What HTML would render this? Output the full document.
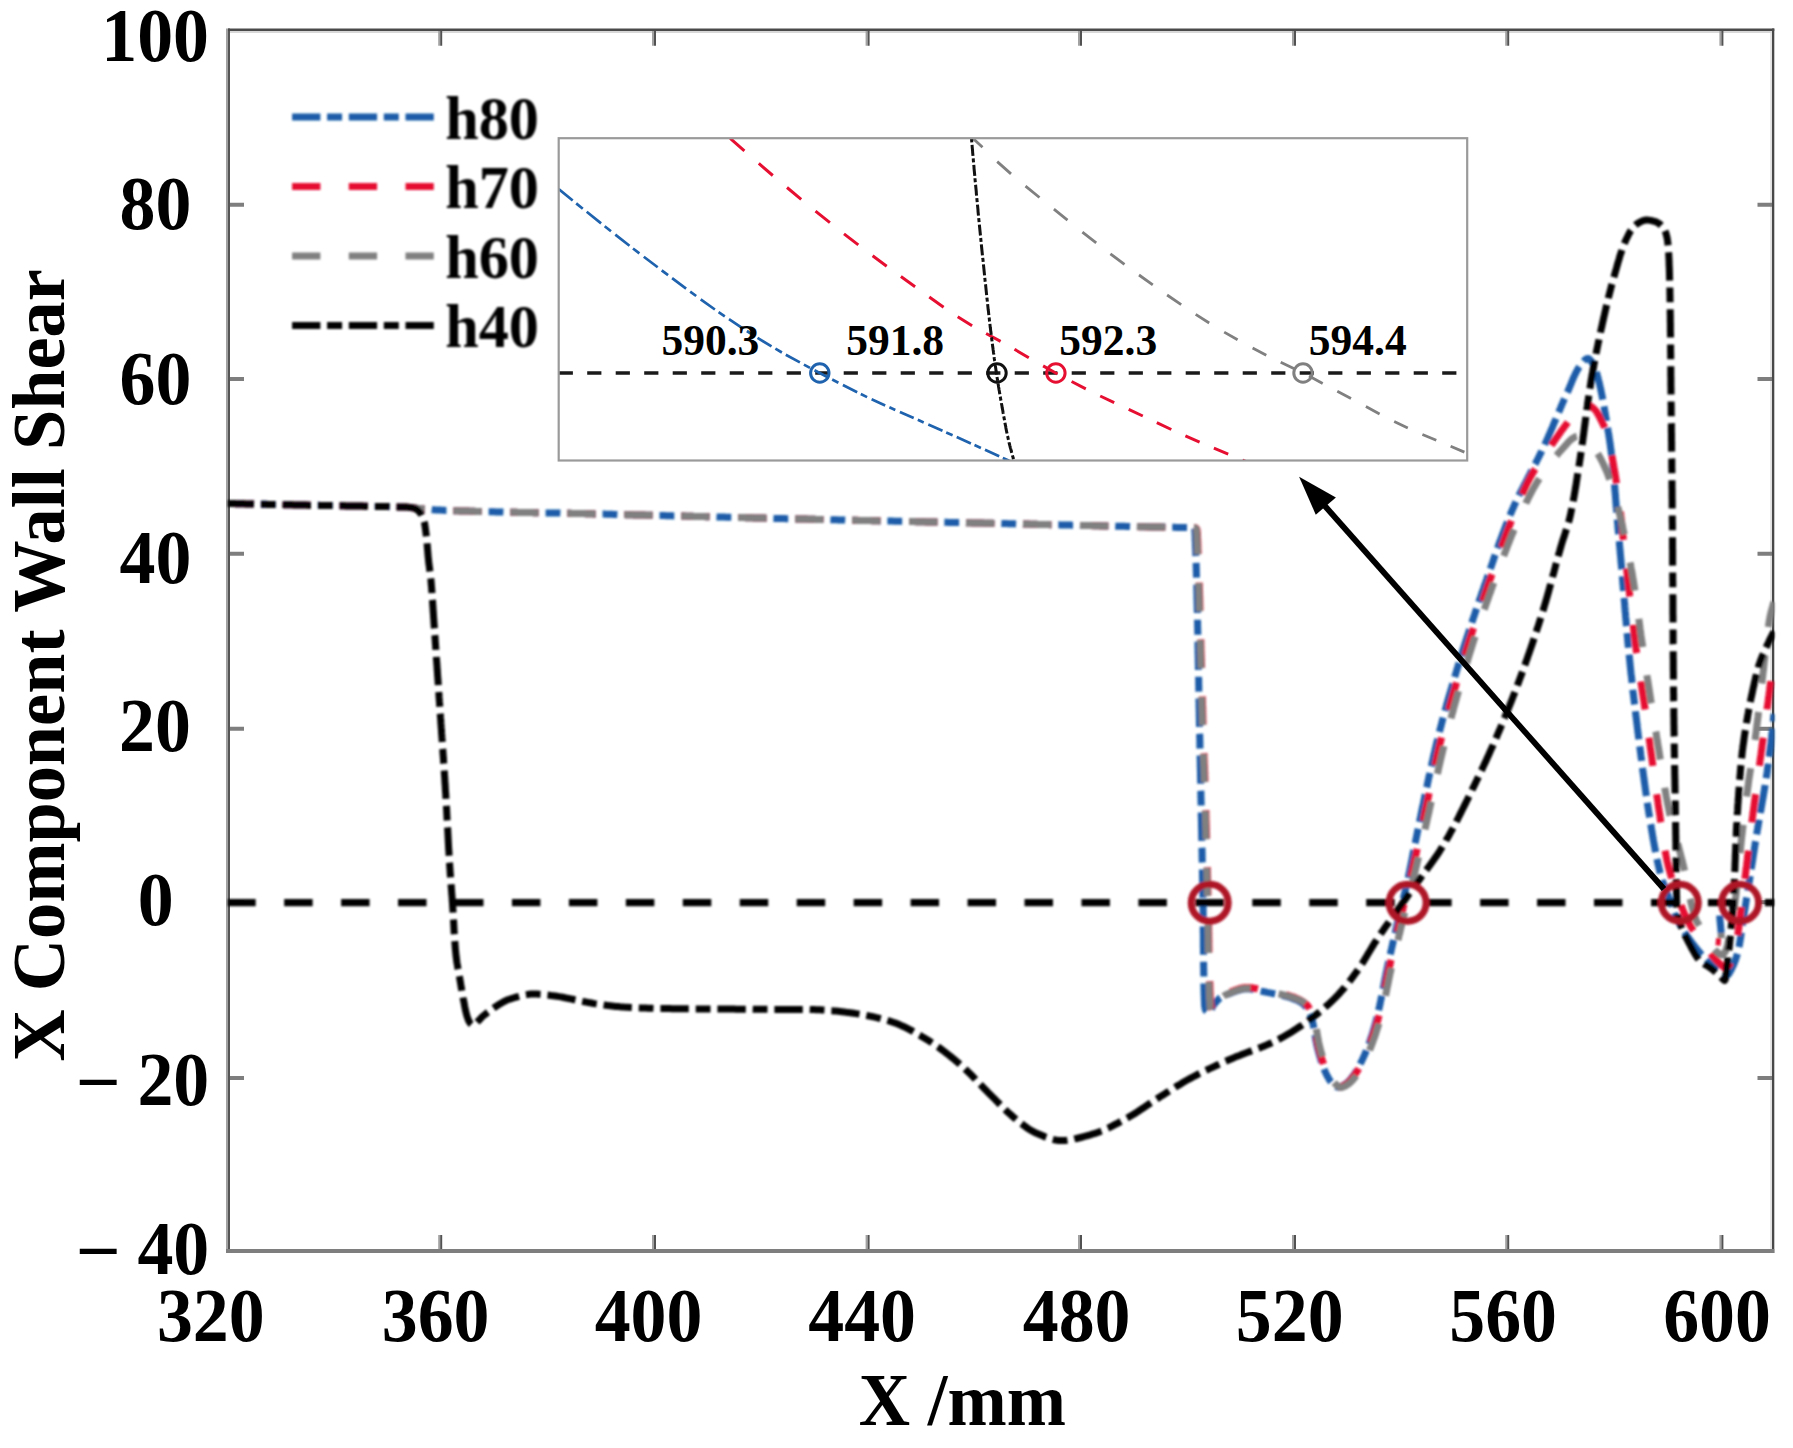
<!DOCTYPE html>
<html lang="en"><head><meta charset="utf-8"><title>X Component Wall Shear</title>
<style>html,body{margin:0;padding:0;background:#fff}svg{display:block}text{font-family:"Liberation Serif",serif;font-weight:bold;fill:#000}</style></head><body>
<svg width="1793" height="1448" viewBox="0 0 1793 1448">
<rect width="1793" height="1448" fill="#fff"/>
<defs><clipPath id="plot"><rect x="228.0" y="29.8" width="1546.4" height="1221.2"/></clipPath><clipPath id="ins"><rect x="558.7" y="138.2" width="908.5" height="322.3"/></clipPath><filter id="soft" filterUnits="userSpaceOnUse" x="0" y="0" width="1793" height="1448"><feGaussianBlur stdDeviation="0.8"/></filter></defs>
<g fill="none" stroke-width="2">
<path d="M227 28.5V1253" stroke="#a2a2a2"/><path d="M229 28.5V1253" stroke="#555"/>
<path d="M1771.1 31V1249" stroke="#e2e2e2" stroke-width="1.8"/><path d="M1773.15 28.5V1253" stroke="#484848" stroke-width="2.3"/>
<path d="M228 29.75H1774.3" stroke="#4a4a4a" stroke-width="2.5"/><path d="M230 32H1772" stroke="#d8d8d8"/>
<path d="M226 1251H1774.3" stroke="#7e7e7e" stroke-width="4"/>
<path d="M439.2 31V45.8 M439.2 1249V1235.0" stroke="#a2a2a2"/>
<path d="M441.2 31V45.8 M441.2 1249V1235.0" stroke="#525252"/>
<path d="M653.0 31V45.8 M653.0 1249V1235.0" stroke="#a2a2a2"/>
<path d="M655.0 31V45.8 M655.0 1249V1235.0" stroke="#525252"/>
<path d="M866.6 31V45.8 M866.6 1249V1235.0" stroke="#a2a2a2"/>
<path d="M868.6 31V45.8 M868.6 1249V1235.0" stroke="#525252"/>
<path d="M1079.0 31V45.8 M1079.0 1249V1235.0" stroke="#a2a2a2"/>
<path d="M1081.0 31V45.8 M1081.0 1249V1235.0" stroke="#525252"/>
<path d="M1293.0 31V45.8 M1293.0 1249V1235.0" stroke="#a2a2a2"/>
<path d="M1295.0 31V45.8 M1295.0 1249V1235.0" stroke="#525252"/>
<path d="M1506.2 31V45.8 M1506.2 1249V1235.0" stroke="#a2a2a2"/>
<path d="M1508.2 31V45.8 M1508.2 1249V1235.0" stroke="#525252"/>
<path d="M1720.4 31V45.8 M1720.4 1249V1235.0" stroke="#a2a2a2"/>
<path d="M1722.4 31V45.8 M1722.4 1249V1235.0" stroke="#525252"/>
<path d="M230 204.7H244 M1772 204.7H1757.5" stroke="#7e7e7e" stroke-width="4"/>
<path d="M230 379.0H244 M1772 379.0H1757.5" stroke="#7e7e7e" stroke-width="4"/>
<path d="M230 553.8H244 M1772 553.8H1757.5" stroke="#7e7e7e" stroke-width="4"/>
<path d="M230 728.7H244 M1772 728.7H1757.5" stroke="#7e7e7e" stroke-width="4"/>
<path d="M230 902.2H244 M1772 902.2H1757.5" stroke="#7e7e7e" stroke-width="4"/>
<path d="M230 1078.0H244 M1772 1078.0H1757.5" stroke="#7e7e7e" stroke-width="4"/>
</g>
<g filter="url(#soft)">
<g clip-path="url(#plot)" fill="none" stroke-width="7.0" stroke-linejoin="round">
<path d="M228.0 503.5L230.0 503.5L232.0 503.6L234.0 503.6L236.0 503.7L238.0 503.7L240.0 503.8L242.0 503.8L244.0 503.8L246.0 503.9L248.0 503.9L250.0 504.0L252.0 504.0L254.0 504.1L256.0 504.1L258.0 504.1L260.0 504.2L262.0 504.2L264.0 504.3L266.0 504.3L268.0 504.4L270.0 504.4L272.0 504.4L274.0 504.5L276.0 504.5L278.0 504.6L280.0 504.6L282.0 504.6L284.0 504.7L286.0 504.7L288.0 504.8L290.1 504.8L292.1 504.8L294.1 504.9L296.1 504.9L298.1 505.0L300.1 505.0L302.1 505.0L304.1 505.1L306.1 505.1L308.1 505.2L310.1 505.2L312.1 505.2L314.1 505.3L316.1 505.3L318.1 505.3L320.1 505.4L322.1 505.4L324.1 505.5L326.1 505.5L328.1 505.5L330.1 505.6L332.1 505.6L334.1 505.6L336.1 505.7L338.1 505.7L340.1 505.7L342.1 505.8L344.1 505.8L346.1 505.9L348.1 505.9L350.1 505.9L352.1 506.0L354.1 506.0L356.1 506.0L358.1 506.1L360.1 506.1L362.1 506.1L364.1 506.2L366.1 506.2L368.1 506.3L370.1 506.3L372.1 506.3L374.1 506.4L376.1 506.4L378.1 506.5L380.1 506.5L382.1 506.5L384.1 506.6L386.1 506.6L388.1 506.6L390.1 506.7L392.1 506.7L394.1 506.8L396.1 506.8L398.1 506.9L400.1 506.9L402.1 507.0L404.1 507.0L406.1 507.2L408.1 507.3L410.1 507.5L412.1 507.7L414.1 507.9L416.1 508.1L418.1 508.4L420.1 508.6L422.1 508.8L424.1 509.1L426.1 509.3L428.1 509.5L430.1 509.6L432.0 509.8L434.0 509.8L436.0 509.9L438.0 510.0L440.0 510.1L442.0 510.2L444.0 510.3L446.0 510.4L448.0 510.4L450.0 510.5L452.0 510.6L454.0 510.7L456.0 510.7L458.0 510.8L460.0 510.9L462.0 510.9L464.0 511.0L466.0 511.1L468.0 511.1L470.0 511.2L472.0 511.3L474.0 511.3L476.0 511.4L478.0 511.4L480.0 511.5L482.0 511.5L484.0 511.6L486.0 511.6L488.0 511.7L490.0 511.7L492.0 511.8L494.0 511.8L496.0 511.9L498.0 511.9L500.0 512.0L502.0 512.0L504.0 512.1L506.0 512.1L508.0 512.2L510.0 512.2L512.0 512.2L514.1 512.3L516.1 512.3L518.1 512.4L520.1 512.4L522.1 512.4L524.1 512.5L526.1 512.5L528.1 512.6L530.1 512.6L532.1 512.6L534.1 512.7L536.1 512.7L538.1 512.7L540.1 512.8L542.1 512.8L544.1 512.9L546.1 512.9L548.1 512.9L550.1 513.0L552.1 513.0L554.1 513.0L556.1 513.1L558.1 513.1L560.1 513.1L562.1 513.2L564.1 513.2L566.1 513.3L568.1 513.3L570.1 513.3L572.1 513.4L574.1 513.4L576.1 513.5L578.1 513.5L580.1 513.5L582.1 513.6L584.2 513.6L586.2 513.7L588.2 513.7L590.2 513.8L592.2 513.8L594.2 513.9L596.2 513.9L598.2 514.0L600.2 514.0L602.2 514.1L604.2 514.1L606.2 514.2L608.2 514.2L610.2 514.3L612.2 514.3L614.2 514.4L616.2 514.4L618.2 514.5L620.2 514.5L622.2 514.6L624.2 514.6L626.2 514.7L628.2 514.7L630.2 514.8L632.2 514.8L634.2 514.9L636.2 514.9L638.2 515.0L640.2 515.0L642.2 515.1L644.2 515.1L646.2 515.2L648.2 515.2L650.2 515.3L652.2 515.3L654.2 515.4L656.2 515.4L658.2 515.5L660.2 515.5L662.2 515.6L664.2 515.6L666.2 515.7L668.2 515.7L670.2 515.8L672.2 515.8L674.2 515.9L676.2 515.9L678.2 516.0L680.2 516.0L682.2 516.1L684.2 516.1L686.2 516.2L688.2 516.2L690.2 516.3L692.2 516.3L694.2 516.4L696.2 516.4L698.2 516.5L700.2 516.5L702.2 516.6L704.2 516.6L706.2 516.7L708.2 516.7L710.2 516.8L712.2 516.8L714.2 516.9L716.2 516.9L718.2 517.0L720.3 517.0L722.3 517.1L724.3 517.1L726.3 517.2L728.3 517.2L730.3 517.3L732.3 517.3L734.3 517.4L736.3 517.4L738.3 517.5L740.3 517.5L742.3 517.6L744.3 517.6L746.3 517.7L748.3 517.7L750.3 517.8L752.3 517.8L754.3 517.9L756.3 517.9L758.3 518.0L760.3 518.0L762.3 518.1L764.3 518.1L766.3 518.2L768.3 518.2L770.3 518.3L772.3 518.3L774.3 518.4L776.3 518.4L778.3 518.5L780.3 518.5L782.3 518.6L784.3 518.6L786.3 518.7L788.3 518.7L790.3 518.8L792.3 518.8L794.3 518.9L796.3 518.9L798.3 519.0L800.3 519.0L802.3 519.1L804.3 519.1L806.3 519.1L808.3 519.2L810.3 519.2L812.3 519.3L814.3 519.3L816.3 519.4L818.3 519.4L820.3 519.5L822.3 519.5L824.3 519.6L826.3 519.6L828.3 519.7L830.3 519.7L832.3 519.8L834.3 519.8L836.3 519.8L838.3 519.9L840.3 519.9L842.3 520.0L844.3 520.0L846.3 520.1L848.3 520.1L850.3 520.2L852.3 520.2L854.3 520.3L856.4 520.3L858.4 520.4L860.4 520.4L862.4 520.4L864.4 520.5L866.4 520.5L868.4 520.6L870.4 520.6L872.4 520.7L874.4 520.7L876.4 520.8L878.4 520.8L880.4 520.9L882.4 520.9L884.4 520.9L886.4 521.0L888.4 521.0L890.4 521.1L892.4 521.1L894.4 521.2L896.4 521.2L898.4 521.3L900.4 521.3L902.4 521.3L904.4 521.4L906.4 521.4L908.4 521.5L910.4 521.5L912.4 521.6L914.4 521.6L916.4 521.7L918.4 521.7L920.4 521.7L922.4 521.8L924.4 521.8L926.4 521.9L928.4 521.9L930.4 522.0L932.4 522.0L934.4 522.1L936.4 522.1L938.4 522.1L940.4 522.2L942.4 522.2L944.4 522.3L946.4 522.3L948.4 522.4L950.4 522.4L952.4 522.5L954.4 522.5L956.4 522.5L958.4 522.6L960.4 522.6L962.4 522.7L964.4 522.7L966.4 522.8L968.4 522.8L970.4 522.8L972.4 522.9L974.4 522.9L976.4 523.0L978.4 523.0L980.4 523.1L982.4 523.1L984.5 523.2L986.5 523.2L988.5 523.2L990.5 523.3L992.5 523.3L994.5 523.4L996.5 523.4L998.5 523.5L1000.5 523.5L1002.5 523.6L1004.5 523.6L1006.5 523.6L1008.5 523.7L1010.5 523.7L1012.5 523.8L1014.5 523.8L1016.5 523.9L1018.5 523.9L1020.5 524.0L1022.5 524.0L1024.5 524.1L1026.5 524.1L1028.5 524.1L1030.5 524.2L1032.5 524.2L1034.5 524.3L1036.5 524.3L1038.5 524.4L1040.5 524.4L1042.5 524.5L1044.5 524.5L1046.5 524.6L1048.5 524.6L1050.5 524.7L1052.5 524.7L1054.5 524.8L1056.5 524.8L1058.5 524.8L1060.5 524.9L1062.5 524.9L1064.5 525.0L1066.5 525.0L1068.5 525.1L1070.5 525.1L1072.5 525.2L1074.5 525.2L1076.5 525.3L1078.5 525.3L1080.5 525.4L1082.5 525.4L1084.5 525.5L1086.5 525.5L1088.5 525.5L1090.5 525.6L1092.5 525.6L1094.5 525.7L1096.5 525.7L1098.5 525.8L1100.5 525.8L1102.5 525.9L1104.5 525.9L1106.5 526.0L1108.5 526.0L1110.5 526.0L1112.6 526.1L1114.6 526.1L1116.6 526.2L1118.6 526.2L1120.6 526.3L1122.6 526.3L1124.6 526.3L1126.6 526.4L1128.6 526.4L1130.6 526.5L1132.6 526.5L1134.6 526.6L1136.6 526.6L1138.6 526.6L1140.6 526.7L1142.6 526.7L1144.6 526.8L1146.6 526.8L1148.6 526.8L1150.6 526.9L1152.6 526.9L1154.6 527.0L1156.6 527.0L1158.6 527.0L1160.6 527.1L1162.6 527.1L1164.6 527.1L1166.6 527.2L1168.6 527.2L1170.6 527.3L1172.6 527.3L1174.6 527.3L1176.6 527.4L1178.6 527.4L1180.6 527.4L1182.6 527.5L1184.6 527.5L1186.6 527.5L1188.6 527.5L1190.6 527.6L1192.7 527.6L1194.4 528.3L1194.9 530.3L1195.0 532.2L1195.1 534.2L1195.2 536.3L1195.2 538.3L1195.3 540.3L1195.4 542.3L1195.5 544.3L1195.5 546.3L1195.6 548.3L1195.7 550.3L1195.8 552.3L1195.8 554.3L1195.9 556.3L1196.0 558.3L1196.0 560.3L1196.1 562.3L1196.2 564.3L1196.2 566.3L1196.3 568.3L1196.3 570.3L1196.4 572.3L1196.4 574.3L1196.5 576.3L1196.6 578.3L1196.6 580.3L1196.7 582.3L1196.7 584.3L1196.8 586.3L1196.8 588.3L1196.9 590.3L1196.9 592.3L1197.0 594.3L1197.0 596.3L1197.0 598.3L1197.1 600.3L1197.1 602.3L1197.2 604.3L1197.2 606.3L1197.3 608.3L1197.3 610.4L1197.4 612.4L1197.4 614.4L1197.4 616.4L1197.5 618.4L1197.5 620.4L1197.6 622.4L1197.6 624.4L1197.6 626.4L1197.7 628.4L1197.7 630.4L1197.8 632.4L1197.8 634.4L1197.8 636.4L1197.9 638.4L1197.9 640.4L1198.0 642.4L1198.0 644.4L1198.0 646.4L1198.1 648.4L1198.1 650.4L1198.1 652.4L1198.2 654.4L1198.2 656.4L1198.3 658.4L1198.3 660.4L1198.3 662.4L1198.4 664.4L1198.4 666.4L1198.4 668.4L1198.5 670.4L1198.5 672.4L1198.5 674.4L1198.6 676.4L1198.6 678.4L1198.7 680.4L1198.7 682.4L1198.7 684.4L1198.8 686.4L1198.8 688.4L1198.8 690.4L1198.9 692.4L1198.9 694.4L1198.9 696.4L1199.0 698.4L1199.0 700.4L1199.1 702.4L1199.1 704.4L1199.1 706.4L1199.2 708.4L1199.2 710.4L1199.3 712.4L1199.3 714.4L1199.3 716.4L1199.4 718.4L1199.4 720.4L1199.4 722.4L1199.5 724.4L1199.5 726.5L1199.6 728.5L1199.6 730.5L1199.6 732.5L1199.7 734.5L1199.7 736.5L1199.8 738.5L1199.8 740.5L1199.9 742.5L1199.9 744.5L1199.9 746.5L1200.0 748.5L1200.0 750.5L1200.1 752.5L1200.1 754.5L1200.1 756.5L1200.2 758.5L1200.2 760.5L1200.3 762.5L1200.3 764.5L1200.3 766.5L1200.4 768.5L1200.4 770.5L1200.5 772.5L1200.5 774.5L1200.5 776.5L1200.6 778.5L1200.6 780.5L1200.7 782.5L1200.7 784.5L1200.7 786.5L1200.8 788.5L1200.8 790.5L1200.9 792.5L1200.9 794.5L1200.9 796.5L1201.0 798.5L1201.0 800.5L1201.1 802.5L1201.1 804.5L1201.1 806.5L1201.2 808.5L1201.2 810.5L1201.3 812.5L1201.3 814.5L1201.3 816.5L1201.4 818.5L1201.4 820.5L1201.5 822.5L1201.5 824.5L1201.5 826.5L1201.6 828.5L1201.6 830.5L1201.7 832.5L1201.7 834.5L1201.7 836.5L1201.8 838.5L1201.8 840.5L1201.9 842.5L1201.9 844.5L1201.9 846.6L1202.0 848.6L1202.0 850.6L1202.1 852.6L1202.1 854.6L1202.1 856.6L1202.2 858.6L1202.2 860.6L1202.3 862.6L1202.3 864.6L1202.3 866.6L1202.4 868.6L1202.4 870.6L1202.5 872.6L1202.5 874.6L1202.5 876.6L1202.6 878.6L1202.6 880.6L1202.7 882.6L1202.7 884.6L1202.7 886.6L1202.8 888.6L1202.8 890.6L1202.8 892.6L1202.9 894.6L1202.9 896.6L1202.9 898.6L1203.0 900.6L1203.0 902.6L1203.0 904.6L1203.1 906.6L1203.1 908.6L1203.1 910.6L1203.2 912.6L1203.2 914.6L1203.2 916.6L1203.2 918.6L1203.2 920.7L1203.3 922.7L1203.3 924.7L1203.3 926.7L1203.3 928.7L1203.3 930.7L1203.3 932.7L1203.4 934.7L1203.4 936.7L1203.4 938.8L1203.4 940.8L1203.4 942.8L1203.4 944.8L1203.4 946.8L1203.5 948.8L1203.5 950.8L1203.5 952.8L1203.5 954.8L1203.5 956.8L1203.5 958.8L1203.6 960.9L1203.6 962.9L1203.6 964.9L1203.6 966.9L1203.7 968.9L1203.7 970.9L1203.7 972.9L1203.8 974.9L1203.8 976.9L1203.8 978.9L1203.9 980.9L1203.9 982.9L1203.9 984.9L1204.0 986.8L1204.0 988.8L1204.1 990.8L1204.1 992.8L1204.2 994.8L1204.3 996.8L1204.3 998.8L1204.4 1000.7L1204.5 1002.7L1204.5 1004.7L1204.8 1006.9L1205.2 1009.0L1205.8 1010.7L1207.2 1011.9L1209.1 1012.5L1210.3 1011.6L1211.3 1009.6L1212.2 1007.4L1213.3 1005.5L1214.5 1003.9L1215.8 1002.3L1217.1 1000.7L1218.5 999.3L1220.0 998.0L1221.6 997.0L1223.4 996.1L1225.2 995.2L1227.1 994.5L1229.0 993.8L1230.9 993.1L1232.8 992.3L1234.7 991.6L1236.6 991.0L1238.6 990.3L1240.5 989.8L1242.5 989.4L1244.4 989.1L1246.4 988.9L1248.4 988.9L1250.3 989.1L1252.3 989.3L1254.3 989.7L1256.2 990.1L1258.2 990.5L1260.2 991.0L1262.2 991.4L1264.2 991.8L1266.1 992.2L1268.1 992.6L1270.1 992.9L1272.0 993.3L1274.0 993.7L1276.0 994.1L1277.9 994.5L1279.9 994.9L1281.8 995.4L1283.8 995.9L1285.7 996.4L1287.6 996.9L1289.6 997.5L1291.6 998.2L1293.5 998.9L1295.4 999.6L1297.2 1000.4L1299.0 1001.2L1300.7 1002.2L1302.3 1003.2L1303.9 1004.5L1305.3 1006.0L1306.6 1007.5L1307.7 1009.1L1308.7 1010.8L1309.6 1012.7L1310.4 1014.6L1311.1 1016.5L1311.7 1018.3L1312.2 1020.2L1312.6 1022.2L1313.1 1024.1L1313.5 1026.1L1313.8 1028.0L1314.2 1030.0L1314.5 1032.0L1314.8 1034.0L1315.2 1036.0L1315.5 1038.0L1315.8 1040.0L1316.2 1042.0L1316.6 1043.9L1317.0 1045.9L1317.5 1047.8L1318.0 1049.8L1318.5 1051.7L1319.0 1053.7L1319.6 1055.6L1320.1 1057.5L1320.7 1059.5L1321.3 1061.4L1322.0 1063.3L1322.6 1065.2L1323.3 1067.1L1324.1 1068.9L1324.8 1070.8L1325.6 1072.6L1326.4 1074.4L1327.4 1076.2L1328.4 1078.0L1329.4 1079.7L1330.6 1081.4L1331.8 1082.8L1333.3 1084.3L1334.9 1085.8L1336.6 1086.9L1338.4 1087.3L1340.3 1086.9L1342.2 1086.0L1344.0 1085.0L1345.6 1083.9L1347.2 1082.6L1348.7 1081.2L1350.0 1079.7L1351.3 1078.2L1352.5 1076.6L1353.7 1075.0L1354.8 1073.4L1355.9 1071.7L1356.9 1070.0L1358.0 1068.2L1359.0 1066.4L1359.9 1064.6L1360.8 1062.8L1361.7 1061.0L1362.6 1059.2L1363.4 1057.4L1364.2 1055.6L1365.0 1053.8L1365.8 1051.9L1366.5 1050.1L1367.3 1048.2L1368.0 1046.4L1368.7 1044.5L1369.4 1042.6L1370.0 1040.7L1370.7 1038.8L1371.3 1036.9L1372.0 1034.9L1372.6 1033.0L1373.2 1031.1L1373.7 1029.2L1374.3 1027.3L1374.9 1025.3L1375.4 1023.4L1375.9 1021.5L1376.4 1019.6L1376.9 1017.6L1377.4 1015.7L1377.8 1013.8L1378.3 1011.8L1378.7 1009.9L1379.2 1007.9L1379.6 1006.0L1380.0 1004.0L1380.4 1002.0L1380.8 1000.1L1381.2 998.1L1381.6 996.2L1382.0 994.2L1382.4 992.2L1382.8 990.2L1383.2 988.3L1383.6 986.3L1384.0 984.3L1384.3 982.4L1384.7 980.4L1385.1 978.4L1385.5 976.5L1385.9 974.5L1386.3 972.5L1386.7 970.6L1387.1 968.6L1387.5 966.6L1388.0 964.7L1388.4 962.7L1388.8 960.8L1389.3 958.8L1389.7 956.9L1390.1 954.9L1390.6 953.0L1391.0 951.0L1391.5 949.1L1391.9 947.1L1392.4 945.2L1392.8 943.2L1393.3 941.2L1393.7 939.3L1394.1 937.3L1394.6 935.4L1395.0 933.4L1395.5 931.5L1395.9 929.5L1396.4 927.6L1396.8 925.6L1397.3 923.7L1397.8 921.7L1398.2 919.8L1398.7 917.8L1399.1 915.9L1399.6 913.9L1400.1 912.0L1400.5 910.1L1401.0 908.1L1401.5 906.2L1401.9 904.2L1402.4 902.3L1402.9 900.3L1403.4 898.4L1403.8 896.4L1404.3 894.5L1404.8 892.5L1405.3 890.6L1405.7 888.6L1406.2 886.7L1406.6 884.7L1407.1 882.8L1407.5 880.8L1408.0 878.9L1408.4 876.9L1408.8 875.0L1409.2 873.0L1409.6 871.1L1410.0 869.1L1410.4 867.1L1410.8 865.2L1411.2 863.2L1411.6 861.2L1412.0 859.3L1412.4 857.3L1412.7 855.4L1413.1 853.4L1413.5 851.4L1413.9 849.5L1414.3 847.5L1414.7 845.5L1415.1 843.6L1415.5 841.6L1415.9 839.6L1416.3 837.7L1416.7 835.7L1417.1 833.8L1417.5 831.8L1417.9 829.8L1418.3 827.9L1418.7 825.9L1419.1 824.0L1419.5 822.0L1419.9 820.0L1420.3 818.1L1420.7 816.1L1421.1 814.1L1421.5 812.2L1421.9 810.2L1422.3 808.3L1422.7 806.3L1423.2 804.3L1423.6 802.4L1424.0 800.4L1424.4 798.4L1424.8 796.5L1425.2 794.5L1425.6 792.6L1426.0 790.6L1426.4 788.6L1426.9 786.7L1427.3 784.7L1427.7 782.8L1428.1 780.8L1428.5 778.9L1429.0 776.9L1429.4 774.9L1429.8 773.0L1430.2 771.0L1430.7 769.1L1431.1 767.1L1431.6 765.2L1432.0 763.2L1432.4 761.3L1432.9 759.3L1433.3 757.4L1433.8 755.4L1434.2 753.5L1434.7 751.5L1435.1 749.6L1435.6 747.6L1436.1 745.7L1436.5 743.7L1437.0 741.8L1437.5 739.8L1437.9 737.9L1438.4 736.0L1438.9 734.0L1439.4 732.1L1439.9 730.1L1440.4 728.2L1440.9 726.3L1441.4 724.3L1441.9 722.4L1442.4 720.5L1442.9 718.5L1443.4 716.6L1443.9 714.7L1444.5 712.7L1445.0 710.8L1445.5 708.9L1446.1 706.9L1446.6 705.0L1447.2 703.1L1447.7 701.1L1448.2 699.2L1448.8 697.3L1449.3 695.4L1449.9 693.4L1450.5 691.5L1451.0 689.6L1451.6 687.7L1452.2 685.8L1452.7 683.8L1453.3 681.9L1453.9 680.0L1454.4 678.1L1455.0 676.1L1455.6 674.2L1456.2 672.3L1456.7 670.4L1457.3 668.5L1457.9 666.6L1458.5 664.6L1459.1 662.7L1459.7 660.8L1460.3 658.9L1460.8 657.0L1461.4 655.1L1462.0 653.2L1462.6 651.3L1463.2 649.3L1463.8 647.4L1464.4 645.5L1465.0 643.6L1465.6 641.7L1466.2 639.8L1466.8 637.9L1467.5 636.0L1468.1 634.1L1468.7 632.2L1469.3 630.3L1469.9 628.4L1470.6 626.5L1471.2 624.6L1471.8 622.7L1472.5 620.8L1473.1 618.9L1473.7 617.0L1474.4 615.1L1475.0 613.2L1475.7 611.3L1476.3 609.4L1476.9 607.5L1477.6 605.6L1478.2 603.7L1478.9 601.8L1479.5 599.9L1480.2 598.0L1480.9 596.1L1481.5 594.2L1482.2 592.3L1482.8 590.5L1483.5 588.6L1484.1 586.7L1484.8 584.8L1485.5 582.9L1486.1 581.0L1486.8 579.1L1487.4 577.2L1488.1 575.3L1488.7 573.4L1489.4 571.5L1490.1 569.6L1490.7 567.8L1491.4 565.9L1492.0 564.0L1492.7 562.1L1493.3 560.2L1494.0 558.3L1494.6 556.4L1495.3 554.5L1496.0 552.6L1496.6 550.7L1497.3 548.8L1498.0 546.9L1498.7 545.0L1499.3 543.1L1500.0 541.3L1500.7 539.4L1501.4 537.5L1502.1 535.6L1502.8 533.7L1503.5 531.9L1504.2 530.0L1504.9 528.1L1505.6 526.3L1506.3 524.4L1507.1 522.5L1507.8 520.7L1508.6 518.8L1509.3 517.0L1510.1 515.1L1510.8 513.3L1511.6 511.5L1512.4 509.6L1513.2 507.8L1514.0 506.0L1514.8 504.2L1515.7 502.3L1516.5 500.5L1517.4 498.7L1518.2 496.9L1519.1 495.1L1520.0 493.3L1520.9 491.5L1521.8 489.8L1522.7 488.0L1523.6 486.2L1524.5 484.4L1525.5 482.6L1526.4 480.8L1527.3 479.1L1528.2 477.3L1529.2 475.5L1530.1 473.7L1531.0 472.0L1532.0 470.2L1532.9 468.4L1533.8 466.6L1534.7 464.8L1535.7 463.1L1536.6 461.3L1537.5 459.5L1538.4 457.7L1539.3 455.9L1540.2 454.1L1541.1 452.3L1541.9 450.5L1542.8 448.7L1543.7 446.9L1544.5 445.1L1545.3 443.3L1546.2 441.4L1547.0 439.6L1547.8 437.8L1548.6 436.0L1549.4 434.1L1550.2 432.3L1551.0 430.4L1551.8 428.6L1552.6 426.8L1553.3 424.9L1554.1 423.1L1554.9 421.2L1555.7 419.4L1556.5 417.5L1557.2 415.7L1558.0 413.8L1558.8 412.0L1559.6 410.2L1560.4 408.3L1561.1 406.5L1561.9 404.6L1562.7 402.8L1563.5 400.9L1564.3 399.1L1565.1 397.3L1565.9 395.5L1566.7 393.6L1567.6 391.8L1568.4 390.0L1569.2 388.1L1570.0 386.2L1570.8 384.4L1571.5 382.5L1572.3 380.6L1573.1 378.7L1573.9 376.8L1574.8 375.0L1575.6 373.2L1576.6 371.4L1577.5 369.7L1578.5 368.1L1579.6 366.5L1580.8 364.8L1582.2 362.9L1583.7 361.1L1585.2 359.6L1586.7 358.6L1588.2 358.4L1589.6 359.4L1591.1 361.1L1592.4 363.0L1593.4 364.7L1594.2 366.4L1595.0 368.3L1595.7 370.2L1596.3 372.1L1596.9 374.1L1597.5 376.1L1598.0 378.0L1598.5 380.0L1599.0 381.9L1599.5 383.8L1599.9 385.8L1600.4 387.7L1600.8 389.7L1601.2 391.6L1601.6 393.6L1602.0 395.6L1602.4 397.5L1602.7 399.5L1603.1 401.5L1603.4 403.5L1603.8 405.4L1604.1 407.4L1604.5 409.4L1604.8 411.4L1605.2 413.3L1605.5 415.3L1605.8 417.3L1606.2 419.3L1606.5 421.2L1606.8 423.2L1607.2 425.2L1607.5 427.2L1607.8 429.1L1608.1 431.1L1608.5 433.1L1608.8 435.1L1609.1 437.1L1609.4 439.0L1609.7 441.0L1610.0 443.0L1610.3 445.0L1610.5 447.0L1610.8 448.9L1611.1 450.9L1611.3 452.9L1611.6 454.9L1611.8 456.9L1612.1 458.9L1612.3 460.9L1612.5 462.8L1612.7 464.8L1612.9 466.8L1613.1 468.8L1613.3 470.8L1613.5 472.8L1613.7 474.8L1613.9 476.8L1614.0 478.8L1614.2 480.8L1614.4 482.8L1614.5 484.8L1614.7 486.8L1614.8 488.8L1615.0 490.8L1615.2 492.8L1615.3 494.7L1615.5 496.7L1615.6 498.7L1615.8 500.7L1615.9 502.7L1616.1 504.7L1616.2 506.7L1616.4 508.7L1616.6 510.7L1616.7 512.7L1616.9 514.7L1617.1 516.7L1617.3 518.7L1617.4 520.7L1617.6 522.7L1617.8 524.7L1617.9 526.7L1618.1 528.7L1618.3 530.7L1618.5 532.7L1618.6 534.7L1618.8 536.7L1619.0 538.6L1619.2 540.6L1619.4 542.6L1619.5 544.6L1619.7 546.6L1619.9 548.6L1620.1 550.6L1620.2 552.6L1620.4 554.6L1620.6 556.6L1620.8 558.6L1620.9 560.6L1621.1 562.6L1621.3 564.6L1621.5 566.6L1621.6 568.6L1621.8 570.6L1622.0 572.6L1622.2 574.5L1622.3 576.5L1622.5 578.5L1622.7 580.5L1622.8 582.5L1623.0 584.5L1623.2 586.5L1623.3 588.5L1623.5 590.5L1623.7 592.5L1623.8 594.5L1624.0 596.5L1624.2 598.5L1624.3 600.5L1624.5 602.5L1624.7 604.5L1624.8 606.5L1625.0 608.5L1625.1 610.5L1625.3 612.5L1625.5 614.5L1625.6 616.5L1625.8 618.4L1626.0 620.4L1626.2 622.4L1626.3 624.4L1626.5 626.4L1626.7 628.4L1626.8 630.4L1627.0 632.4L1627.2 634.4L1627.4 636.4L1627.6 638.4L1627.7 640.4L1627.9 642.4L1628.1 644.4L1628.3 646.4L1628.5 648.4L1628.7 650.3L1628.9 652.3L1629.1 654.3L1629.3 656.3L1629.5 658.3L1629.7 660.3L1629.9 662.3L1630.1 664.3L1630.3 666.3L1630.5 668.3L1630.7 670.3L1630.9 672.3L1631.1 674.2L1631.4 676.2L1631.6 678.2L1631.8 680.2L1632.0 682.2L1632.2 684.2L1632.5 686.2L1632.7 688.2L1632.9 690.2L1633.1 692.2L1633.4 694.1L1633.6 696.1L1633.8 698.1L1634.1 700.1L1634.3 702.1L1634.5 704.1L1634.8 706.1L1635.0 708.1L1635.3 710.0L1635.5 712.0L1635.7 714.0L1636.0 716.0L1636.2 718.0L1636.5 720.0L1636.7 722.0L1637.0 724.0L1637.2 725.9L1637.4 727.9L1637.7 729.9L1637.9 731.9L1638.2 733.9L1638.4 735.9L1638.7 737.9L1638.9 739.9L1639.2 741.8L1639.4 743.8L1639.7 745.8L1639.9 747.8L1640.2 749.8L1640.4 751.8L1640.7 753.8L1640.9 755.7L1641.2 757.7L1641.5 759.7L1641.7 761.7L1642.0 763.7L1642.2 765.7L1642.5 767.7L1642.7 769.7L1643.0 771.6L1643.3 773.6L1643.5 775.6L1643.8 777.6L1644.1 779.6L1644.3 781.6L1644.6 783.6L1644.9 785.5L1645.2 787.5L1645.4 789.5L1645.7 791.5L1646.0 793.5L1646.3 795.5L1646.6 797.4L1646.8 799.4L1647.1 801.4L1647.4 803.4L1647.7 805.4L1648.0 807.3L1648.3 809.3L1648.6 811.3L1648.9 813.3L1649.3 815.2L1649.6 817.2L1649.9 819.2L1650.2 821.2L1650.5 823.1L1650.9 825.1L1651.2 827.1L1651.5 829.1L1651.8 831.0L1652.2 833.0L1652.5 835.0L1652.8 837.0L1653.2 839.0L1653.5 840.9L1653.9 842.9L1654.2 844.9L1654.6 846.9L1655.0 848.8L1655.3 850.8L1655.7 852.8L1656.1 854.8L1656.5 856.7L1656.9 858.7L1657.3 860.6L1657.7 862.6L1658.2 864.6L1658.6 866.5L1659.1 868.4L1659.6 870.4L1660.0 872.3L1660.5 874.2L1661.0 876.2L1661.6 878.1L1662.2 880.0L1662.8 881.9L1663.5 883.7L1664.2 885.6L1664.9 887.5L1665.6 889.4L1666.4 891.2L1667.1 893.1L1667.8 895.0L1668.5 896.9L1669.2 898.7L1669.9 900.6L1670.6 902.5L1671.3 904.4L1672.0 906.3L1672.6 908.2L1673.3 910.1L1674.1 912.0L1674.8 913.8L1675.6 915.7L1676.4 917.5L1677.2 919.3L1678.1 921.1L1679.0 922.8L1679.9 924.6L1680.9 926.3L1681.9 928.0L1683.0 929.7L1684.1 931.4L1685.2 933.1L1686.3 934.8L1687.4 936.5L1688.6 938.1L1689.8 939.8L1691.0 941.4L1692.2 943.0L1693.4 944.6L1694.6 946.2L1695.8 947.8L1697.1 949.3L1698.3 950.9L1699.6 952.4L1700.9 953.9L1702.3 955.4L1703.6 956.9L1705.0 958.4L1706.4 959.8L1707.8 961.2L1709.2 962.6L1710.7 964.0L1712.1 965.5L1713.6 966.9L1715.0 968.3L1716.6 969.6L1718.1 970.8L1719.8 971.9L1721.6 972.9L1723.6 973.9L1725.5 974.7L1727.1 975.0L1728.5 974.3L1729.7 972.6L1730.8 970.5L1731.8 968.4L1732.7 966.7L1733.5 964.9L1734.3 963.0L1735.0 961.1L1735.7 959.2L1736.3 957.3L1736.9 955.4L1737.5 953.4L1738.0 951.5L1738.4 949.5L1738.8 947.6L1739.2 945.7L1739.6 943.7L1739.9 941.7L1740.2 939.8L1740.6 937.8L1740.8 935.8L1741.1 933.8L1741.4 931.8L1741.7 929.8L1742.0 927.8L1742.2 925.8L1742.5 923.8L1742.8 921.9L1743.1 919.9L1743.5 917.9L1743.8 915.9L1744.1 913.9L1744.4 912.0L1744.7 910.0L1745.1 908.0L1745.4 906.0L1745.7 904.1L1746.0 902.1L1746.3 900.1L1746.6 898.1L1747.0 896.2L1747.3 894.2L1747.6 892.2L1747.9 890.2L1748.2 888.2L1748.5 886.3L1748.9 884.3L1749.2 882.3L1749.5 880.3L1749.8 878.4L1750.1 876.4L1750.4 874.4L1750.7 872.4L1751.0 870.4L1751.3 868.5L1751.6 866.5L1751.9 864.5L1752.3 862.5L1752.6 860.6L1752.9 858.6L1753.2 856.6L1753.5 854.6L1753.8 852.6L1754.1 850.7L1754.4 848.7L1754.7 846.7L1755.0 844.7L1755.3 842.8L1755.7 840.8L1756.0 838.8L1756.3 836.8L1756.6 834.8L1756.9 832.9L1757.2 830.9L1757.6 828.9L1757.9 826.9L1758.2 825.0L1758.6 823.0L1758.9 821.0L1759.2 819.0L1759.6 817.1L1759.9 815.1L1760.3 813.1L1760.6 811.2L1761.0 809.2L1761.3 807.2L1761.7 805.2L1762.0 803.3L1762.4 801.3L1762.7 799.3L1763.1 797.3L1763.4 795.4L1763.7 793.4L1764.1 791.4L1764.4 789.5L1764.7 787.5L1765.1 785.5L1765.4 783.5L1765.7 781.5L1766.0 779.6L1766.3 777.6L1766.6 775.6L1766.9 773.6L1767.2 771.7L1767.4 769.7L1767.7 767.7L1768.0 765.7L1768.3 763.7L1768.5 761.7L1768.8 759.8L1769.0 757.8L1769.3 755.8L1769.5 753.8L1769.8 751.8L1770.0 749.8L1770.3 747.8L1770.5 745.9L1770.8 743.9L1771.0 741.9L1771.2 739.9L1771.5 737.9L1771.7 735.9L1771.9 733.9L1772.2 731.9L1772.4 729.9L1772.6 728.0L1772.8 726.0L1773.0 724.0L1773.2 722.0L1773.4 720.0L1773.6 718.0L1773.8 716.0L1774.0 714.0" stroke="#1a5ca8" stroke-dasharray="28.4 6.9 14.8 6.9" stroke-dashoffset="2.4"/>
<path d="M228.0 503.5L230.0 503.5L232.0 503.6L234.0 503.6L236.0 503.7L238.0 503.7L240.0 503.8L242.0 503.8L244.0 503.8L246.0 503.9L248.0 503.9L250.0 504.0L252.0 504.0L254.0 504.1L256.0 504.1L258.0 504.1L260.0 504.2L262.0 504.2L264.0 504.3L266.0 504.3L268.0 504.4L270.0 504.4L272.0 504.4L274.0 504.5L276.0 504.5L278.0 504.6L280.0 504.6L282.0 504.6L284.0 504.7L286.0 504.7L288.0 504.8L290.0 504.8L292.0 504.8L294.0 504.9L296.0 504.9L298.0 505.0L300.0 505.0L302.0 505.0L304.0 505.1L306.0 505.1L308.0 505.2L310.0 505.2L312.0 505.2L314.0 505.3L316.0 505.3L318.0 505.3L320.0 505.4L322.0 505.4L324.0 505.5L326.1 505.5L328.1 505.5L330.1 505.6L332.1 505.6L334.1 505.6L336.1 505.7L338.1 505.7L340.1 505.7L342.1 505.8L344.1 505.8L346.1 505.9L348.1 505.9L350.1 505.9L352.1 506.0L354.1 506.0L356.1 506.0L358.1 506.1L360.1 506.1L362.1 506.1L364.1 506.2L366.1 506.2L368.1 506.3L370.1 506.3L372.1 506.3L374.1 506.4L376.1 506.4L378.1 506.5L380.1 506.5L382.1 506.5L384.1 506.6L386.1 506.6L388.1 506.6L390.1 506.7L392.1 506.7L394.1 506.8L396.1 506.8L398.1 506.9L400.1 506.9L402.1 507.0L404.1 507.0L406.1 507.2L408.1 507.3L410.1 507.5L412.1 507.7L414.1 507.9L416.0 508.1L418.0 508.4L420.0 508.6L422.0 508.8L424.0 509.1L426.0 509.3L428.0 509.5L430.0 509.6L432.0 509.7L434.0 509.8L436.0 509.9L438.0 510.0L440.0 510.1L442.0 510.2L444.0 510.3L446.0 510.4L448.0 510.4L450.0 510.5L452.0 510.6L454.0 510.7L455.9 510.7L457.9 510.8L459.9 510.9L461.9 510.9L463.9 511.0L465.9 511.1L467.9 511.1L469.9 511.2L471.9 511.3L473.9 511.3L475.9 511.4L477.9 511.4L479.9 511.5L481.9 511.5L483.9 511.6L485.9 511.6L487.9 511.7L489.9 511.7L491.9 511.8L493.9 511.8L495.9 511.9L497.9 511.9L499.9 512.0L502.0 512.0L504.0 512.1L506.0 512.1L508.0 512.2L510.0 512.2L512.0 512.2L514.0 512.3L516.0 512.3L518.0 512.4L520.0 512.4L522.0 512.4L524.0 512.5L526.0 512.5L528.0 512.6L530.0 512.6L532.0 512.6L534.0 512.7L536.0 512.7L538.0 512.7L540.0 512.8L542.0 512.8L544.0 512.8L546.0 512.9L548.0 512.9L550.0 513.0L552.0 513.0L554.0 513.0L556.0 513.1L558.0 513.1L560.0 513.1L562.0 513.2L564.0 513.2L566.0 513.3L568.0 513.3L570.0 513.3L572.0 513.4L574.0 513.4L576.0 513.5L578.0 513.5L580.0 513.5L582.0 513.6L584.0 513.6L586.0 513.7L588.0 513.7L590.0 513.8L592.0 513.8L594.0 513.9L596.0 513.9L598.0 514.0L600.0 514.0L602.0 514.1L604.0 514.1L606.1 514.2L608.1 514.2L610.1 514.3L612.1 514.3L614.1 514.4L616.1 514.4L618.1 514.5L620.1 514.5L622.1 514.6L624.1 514.6L626.1 514.7L628.1 514.7L630.1 514.8L632.1 514.8L634.1 514.9L636.1 514.9L638.1 515.0L640.1 515.0L642.1 515.1L644.1 515.1L646.1 515.2L648.1 515.2L650.1 515.3L652.1 515.3L654.1 515.4L656.1 515.4L658.1 515.5L660.1 515.5L662.1 515.6L664.1 515.6L666.1 515.7L668.1 515.7L670.1 515.8L672.1 515.8L674.1 515.9L676.1 515.9L678.1 516.0L680.1 516.0L682.1 516.1L684.1 516.1L686.1 516.2L688.1 516.2L690.1 516.3L692.1 516.3L694.1 516.4L696.1 516.4L698.1 516.5L700.1 516.5L702.1 516.6L704.1 516.6L706.1 516.7L708.1 516.7L710.1 516.8L712.1 516.8L714.1 516.9L716.1 516.9L718.1 517.0L720.1 517.0L722.1 517.1L724.1 517.1L726.1 517.2L728.1 517.2L730.1 517.3L732.1 517.3L734.1 517.4L736.1 517.4L738.1 517.5L740.1 517.5L742.1 517.6L744.1 517.6L746.1 517.7L748.1 517.7L750.1 517.8L752.1 517.8L754.1 517.9L756.1 517.9L758.1 518.0L760.1 518.0L762.1 518.1L764.1 518.1L766.1 518.2L768.1 518.2L770.1 518.3L772.1 518.3L774.1 518.4L776.1 518.4L778.1 518.5L780.1 518.5L782.1 518.6L784.1 518.6L786.1 518.7L788.1 518.7L790.1 518.8L792.1 518.8L794.1 518.9L796.1 518.9L798.1 519.0L800.1 519.0L802.1 519.1L804.1 519.1L806.1 519.1L808.1 519.2L810.1 519.2L812.1 519.3L814.1 519.3L816.1 519.4L818.1 519.4L820.1 519.5L822.1 519.5L824.1 519.6L826.1 519.6L828.1 519.7L830.1 519.7L832.1 519.8L834.1 519.8L836.1 519.8L838.1 519.9L840.1 519.9L842.1 520.0L844.1 520.0L846.1 520.1L848.2 520.1L850.2 520.2L852.2 520.2L854.2 520.3L856.2 520.3L858.2 520.3L860.2 520.4L862.2 520.4L864.2 520.5L866.2 520.5L868.2 520.6L870.2 520.6L872.2 520.7L874.2 520.7L876.2 520.8L878.2 520.8L880.2 520.8L882.2 520.9L884.2 520.9L886.2 521.0L888.2 521.0L890.2 521.1L892.2 521.1L894.2 521.2L896.2 521.2L898.2 521.3L900.2 521.3L902.2 521.3L904.2 521.4L906.2 521.4L908.2 521.5L910.2 521.5L912.2 521.6L914.2 521.6L916.2 521.7L918.2 521.7L920.2 521.7L922.2 521.8L924.2 521.8L926.2 521.9L928.2 521.9L930.2 522.0L932.2 522.0L934.2 522.0L936.2 522.1L938.2 522.1L940.2 522.2L942.2 522.2L944.2 522.3L946.2 522.3L948.2 522.4L950.2 522.4L952.2 522.4L954.2 522.5L956.2 522.5L958.2 522.6L960.2 522.6L962.2 522.7L964.2 522.7L966.2 522.8L968.2 522.8L970.2 522.8L972.2 522.9L974.2 522.9L976.2 523.0L978.2 523.0L980.2 523.1L982.2 523.1L984.2 523.2L986.2 523.2L988.2 523.2L990.2 523.3L992.2 523.3L994.2 523.4L996.2 523.4L998.2 523.5L1000.2 523.5L1002.2 523.5L1004.2 523.6L1006.2 523.6L1008.2 523.7L1010.2 523.7L1012.2 523.8L1014.2 523.8L1016.2 523.9L1018.2 523.9L1020.2 524.0L1022.2 524.0L1024.2 524.1L1026.2 524.1L1028.2 524.1L1030.2 524.2L1032.2 524.2L1034.2 524.3L1036.2 524.3L1038.2 524.4L1040.2 524.4L1042.2 524.5L1044.2 524.5L1046.2 524.6L1048.2 524.6L1050.2 524.7L1052.2 524.7L1054.2 524.8L1056.2 524.8L1058.2 524.9L1060.2 524.9L1062.3 525.0L1064.3 525.0L1066.3 525.1L1068.3 525.1L1070.3 525.2L1072.3 525.2L1074.3 525.3L1076.3 525.3L1078.3 525.4L1080.3 525.4L1082.3 525.5L1084.3 525.5L1086.3 525.6L1088.3 525.6L1090.3 525.6L1092.3 525.7L1094.3 525.7L1096.3 525.8L1098.3 525.8L1100.3 525.9L1102.3 525.9L1104.3 526.0L1106.3 526.0L1108.3 526.1L1110.3 526.1L1112.3 526.2L1114.3 526.2L1116.3 526.2L1118.3 526.3L1120.3 526.3L1122.3 526.4L1124.3 526.4L1126.3 526.5L1128.3 526.5L1130.3 526.5L1132.3 526.6L1134.3 526.6L1136.3 526.7L1138.3 526.7L1140.3 526.7L1142.3 526.8L1144.3 526.8L1146.3 526.9L1148.3 526.9L1150.3 526.9L1152.3 527.0L1154.3 527.0L1156.3 527.0L1158.3 527.1L1160.3 527.1L1162.3 527.2L1164.3 527.2L1166.3 527.2L1168.3 527.3L1170.3 527.3L1172.3 527.3L1174.3 527.3L1176.3 527.4L1178.3 527.4L1180.3 527.4L1182.3 527.5L1184.3 527.5L1186.3 527.5L1188.3 527.5L1190.3 527.5L1192.3 527.6L1194.3 527.6L1196.2 528.0L1197.1 529.8L1197.3 531.7L1197.5 533.7L1197.5 535.7L1197.6 537.8L1197.7 539.8L1197.8 541.8L1197.9 543.8L1198.0 545.8L1198.0 547.8L1198.1 549.8L1198.2 551.8L1198.3 553.8L1198.4 555.8L1198.4 557.8L1198.5 559.8L1198.6 561.8L1198.7 563.8L1198.7 565.8L1198.8 567.8L1198.9 569.8L1198.9 571.8L1199.0 573.8L1199.1 575.8L1199.1 577.8L1199.2 579.8L1199.3 581.8L1199.3 583.8L1199.4 585.8L1199.4 587.8L1199.5 589.8L1199.6 591.8L1199.6 593.8L1199.7 595.8L1199.8 597.8L1199.8 599.8L1199.9 601.8L1199.9 603.8L1200.0 605.8L1200.0 607.8L1200.1 609.8L1200.2 611.8L1200.2 613.8L1200.3 615.8L1200.3 617.8L1200.4 619.8L1200.4 621.8L1200.5 623.8L1200.5 625.8L1200.6 627.8L1200.6 629.8L1200.7 631.8L1200.7 633.8L1200.8 635.8L1200.8 637.8L1200.9 639.8L1200.9 641.8L1201.0 643.8L1201.0 645.8L1201.1 647.8L1201.1 649.8L1201.2 651.8L1201.2 653.8L1201.3 655.8L1201.3 657.8L1201.4 659.8L1201.4 661.8L1201.5 663.8L1201.6 665.8L1201.6 667.8L1201.7 669.8L1201.7 671.8L1201.8 673.8L1201.8 675.9L1201.9 677.9L1201.9 679.9L1202.0 681.9L1202.0 683.9L1202.1 685.9L1202.1 687.9L1202.2 689.9L1202.2 691.9L1202.3 693.9L1202.3 695.9L1202.4 697.9L1202.4 699.9L1202.5 701.9L1202.5 703.9L1202.6 705.9L1202.7 707.9L1202.7 709.9L1202.8 711.9L1202.8 713.9L1202.9 715.9L1202.9 717.9L1203.0 719.9L1203.1 721.9L1203.1 723.9L1203.2 725.9L1203.2 727.9L1203.3 729.9L1203.4 731.9L1203.4 733.9L1203.5 735.9L1203.6 737.9L1203.6 739.9L1203.7 741.9L1203.7 743.9L1203.8 745.9L1203.9 747.9L1203.9 749.9L1204.0 751.9L1204.1 753.9L1204.1 755.9L1204.2 757.9L1204.3 759.9L1204.3 761.9L1204.4 763.9L1204.5 765.9L1204.6 767.9L1204.6 769.9L1204.7 771.9L1204.8 773.9L1204.8 775.9L1204.9 777.9L1205.0 779.9L1205.0 781.9L1205.1 783.9L1205.2 785.9L1205.2 787.9L1205.3 789.9L1205.4 791.9L1205.4 793.9L1205.5 795.9L1205.5 797.9L1205.6 799.9L1205.7 801.9L1205.7 803.9L1205.8 805.9L1205.9 807.9L1205.9 809.9L1206.0 811.9L1206.0 813.9L1206.1 815.9L1206.1 817.9L1206.2 819.9L1206.3 821.9L1206.3 823.9L1206.4 825.9L1206.4 827.9L1206.5 829.9L1206.5 831.9L1206.6 833.9L1206.6 835.9L1206.7 837.9L1206.7 839.9L1206.8 841.9L1206.8 843.9L1206.9 845.9L1206.9 847.9L1207.0 849.9L1207.0 851.9L1207.1 853.9L1207.1 855.9L1207.2 857.9L1207.2 859.9L1207.2 861.9L1207.3 863.9L1207.3 865.9L1207.4 867.9L1207.4 869.9L1207.5 871.9L1207.5 873.9L1207.6 875.9L1207.6 877.9L1207.7 879.9L1207.7 881.9L1207.8 883.9L1207.8 885.9L1207.9 887.9L1207.9 889.9L1208.0 891.9L1208.0 893.9L1208.0 895.9L1208.1 897.9L1208.1 899.9L1208.2 901.9L1208.2 903.9L1208.3 905.9L1208.3 907.9L1208.4 909.9L1208.4 911.9L1208.5 913.9L1208.5 916.0L1208.5 918.0L1208.6 920.0L1208.6 922.0L1208.6 924.0L1208.7 926.0L1208.7 928.0L1208.7 930.0L1208.7 932.0L1208.8 934.0L1208.8 936.1L1208.8 938.1L1208.9 940.1L1208.9 942.1L1208.9 944.1L1208.9 946.1L1209.0 948.1L1209.0 950.1L1209.0 952.1L1209.1 954.2L1209.1 956.2L1209.2 958.2L1209.2 960.2L1209.2 962.2L1209.3 964.2L1209.3 966.2L1209.4 968.2L1209.4 970.2L1209.5 972.2L1209.5 974.2L1209.6 976.2L1209.7 978.2L1209.7 980.2L1209.8 982.2L1209.9 984.2L1210.0 986.1L1210.0 988.1L1210.1 990.1L1210.2 992.1L1210.3 994.1L1210.4 996.1L1210.5 998.0L1210.6 1000.0L1210.7 1002.0L1210.9 1004.0L1211.2 1006.2L1211.7 1008.3L1212.5 1009.7L1214.5 1010.5L1215.6 1009.9L1216.3 1007.9L1217.0 1005.5L1217.7 1003.5L1218.5 1001.5L1219.4 999.6L1220.3 997.9L1221.5 996.5L1223.0 995.4L1224.8 994.4L1226.7 993.5L1228.6 992.7L1230.4 991.9L1232.3 991.2L1234.2 990.4L1236.1 989.7L1238.1 989.0L1240.0 988.4L1242.0 988.0L1243.9 987.6L1245.9 987.4L1247.9 987.4L1249.8 987.5L1251.8 987.8L1253.8 988.1L1255.7 988.5L1257.7 988.9L1259.7 989.4L1261.7 989.8L1263.7 990.2L1265.6 990.6L1267.6 991.0L1269.6 991.3L1271.5 991.7L1273.5 992.0L1275.5 992.4L1277.5 992.8L1279.4 993.2L1281.4 993.6L1283.3 994.1L1285.2 994.6L1287.2 995.1L1289.1 995.7L1291.1 996.3L1293.0 996.9L1294.9 997.6L1296.8 998.4L1298.6 999.2L1300.4 1000.1L1302.0 1001.0L1303.7 1002.1L1305.3 1003.4L1306.8 1004.9L1308.1 1006.4L1309.1 1008.0L1310.0 1009.7L1310.8 1011.6L1311.5 1013.5L1312.1 1015.5L1312.7 1017.4L1313.2 1019.3L1313.7 1021.3L1314.1 1023.2L1314.5 1025.2L1314.9 1027.1L1315.2 1029.1L1315.6 1031.1L1315.9 1033.1L1316.2 1035.1L1316.6 1037.0L1316.9 1039.0L1317.3 1041.0L1317.7 1043.0L1318.1 1044.9L1318.5 1046.9L1319.0 1048.8L1319.5 1050.7L1320.1 1052.7L1320.6 1054.6L1321.2 1056.6L1321.7 1058.5L1322.3 1060.4L1323.0 1062.3L1323.6 1064.2L1324.3 1066.1L1325.0 1068.0L1325.7 1069.8L1326.5 1071.7L1327.3 1073.5L1328.2 1075.3L1329.1 1077.2L1330.1 1079.0L1331.1 1080.7L1332.3 1082.2L1333.6 1083.7L1335.2 1085.2L1336.9 1086.5L1338.6 1087.2L1340.5 1087.1L1342.4 1086.4L1344.3 1085.4L1345.9 1084.4L1347.5 1083.2L1349.0 1081.8L1350.4 1080.3L1351.7 1078.8L1353.0 1077.3L1354.1 1075.7L1355.3 1074.1L1356.4 1072.4L1357.5 1070.7L1358.5 1069.0L1359.5 1067.2L1360.5 1065.4L1361.4 1063.6L1362.3 1061.8L1363.2 1060.0L1364.0 1058.2L1364.9 1056.4L1365.7 1054.6L1366.5 1052.8L1367.3 1050.9L1368.0 1049.1L1368.8 1047.2L1369.5 1045.4L1370.3 1043.5L1371.0 1041.6L1371.6 1039.7L1372.3 1037.8L1373.0 1035.9L1373.6 1034.0L1374.2 1032.1L1374.9 1030.2L1375.5 1028.2L1376.0 1026.3L1376.6 1024.4L1377.1 1022.5L1377.7 1020.6L1378.2 1018.7L1378.7 1016.7L1379.2 1014.8L1379.7 1012.9L1380.1 1010.9L1380.6 1009.0L1381.0 1007.0L1381.5 1005.1L1381.9 1003.1L1382.3 1001.2L1382.8 999.2L1383.2 997.3L1383.6 995.3L1384.0 993.3L1384.4 991.4L1384.8 989.4L1385.2 987.4L1385.6 985.5L1386.0 983.5L1386.4 981.5L1386.8 979.6L1387.2 977.6L1387.6 975.6L1388.0 973.7L1388.4 971.7L1388.9 969.7L1389.3 967.8L1389.7 965.8L1390.2 963.9L1390.6 961.9L1391.0 960.0L1391.5 958.0L1391.9 956.1L1392.3 954.1L1392.8 952.2L1393.2 950.2L1393.7 948.3L1394.1 946.3L1394.5 944.4L1395.0 942.4L1395.4 940.4L1395.9 938.5L1396.3 936.5L1396.8 934.6L1397.2 932.6L1397.7 930.7L1398.1 928.7L1398.6 926.8L1399.0 924.8L1399.5 922.9L1399.9 920.9L1400.4 919.0L1400.9 917.1L1401.3 915.1L1401.8 913.2L1402.3 911.2L1402.8 909.3L1403.2 907.3L1403.7 905.4L1404.2 903.5L1404.7 901.5L1405.2 899.6L1405.7 897.6L1406.2 895.7L1406.6 893.7L1407.1 891.8L1407.6 889.9L1408.1 887.9L1408.6 886.0L1409.1 884.0L1409.5 882.1L1410.0 880.1L1410.5 878.2L1410.9 876.3L1411.4 874.3L1411.9 872.4L1412.3 870.4L1412.8 868.5L1413.2 866.5L1413.7 864.6L1414.1 862.6L1414.5 860.7L1415.0 858.7L1415.4 856.7L1415.9 854.8L1416.3 852.8L1416.7 850.9L1417.2 848.9L1417.6 847.0L1418.0 845.0L1418.5 843.1L1418.9 841.1L1419.4 839.2L1419.8 837.2L1420.2 835.3L1420.6 833.3L1421.1 831.3L1421.5 829.4L1421.9 827.4L1422.3 825.5L1422.7 823.5L1423.2 821.6L1423.6 819.6L1424.0 817.6L1424.4 815.7L1424.8 813.7L1425.2 811.8L1425.6 809.8L1426.0 807.8L1426.5 805.9L1426.9 803.9L1427.3 802.0L1427.7 800.0L1428.1 798.0L1428.5 796.1L1428.9 794.1L1429.3 792.2L1429.7 790.2L1430.1 788.2L1430.6 786.3L1431.0 784.3L1431.4 782.4L1431.8 780.4L1432.2 778.4L1432.6 776.5L1433.1 774.5L1433.5 772.6L1433.9 770.6L1434.3 768.7L1434.8 766.7L1435.2 764.7L1435.6 762.8L1436.1 760.8L1436.5 758.9L1436.9 756.9L1437.4 755.0L1437.8 753.0L1438.3 751.1L1438.7 749.1L1439.2 747.2L1439.7 745.2L1440.1 743.3L1440.6 741.4L1441.1 739.4L1441.5 737.5L1442.0 735.5L1442.5 733.6L1443.0 731.7L1443.5 729.7L1444.0 727.8L1444.5 725.9L1445.0 723.9L1445.5 722.0L1446.0 720.0L1446.5 718.1L1447.0 716.2L1447.6 714.3L1448.1 712.3L1448.6 710.4L1449.2 708.5L1449.7 706.5L1450.2 704.6L1450.8 702.7L1451.3 700.7L1451.9 698.8L1452.4 696.9L1453.0 695.0L1453.5 693.0L1454.1 691.1L1454.7 689.2L1455.2 687.3L1455.8 685.4L1456.3 683.4L1456.9 681.5L1457.5 679.6L1458.1 677.7L1458.6 675.8L1459.2 673.8L1459.8 671.9L1460.4 670.0L1461.0 668.1L1461.5 666.2L1462.1 664.3L1462.7 662.3L1463.3 660.4L1463.9 658.5L1464.5 656.6L1465.1 654.7L1465.6 652.8L1466.2 650.9L1466.8 649.0L1467.4 647.1L1468.0 645.1L1468.6 643.2L1469.2 641.3L1469.8 639.4L1470.5 637.5L1471.1 635.6L1471.7 633.7L1472.3 631.8L1472.9 629.9L1473.6 628.0L1474.2 626.1L1474.8 624.2L1475.5 622.3L1476.1 620.4L1476.7 618.5L1477.4 616.6L1478.0 614.7L1478.6 612.8L1479.3 610.9L1479.9 609.0L1480.6 607.1L1481.2 605.2L1481.9 603.3L1482.5 601.4L1483.2 599.6L1483.8 597.7L1484.5 595.8L1485.1 593.9L1485.8 592.0L1486.4 590.1L1487.1 588.2L1487.8 586.3L1488.4 584.4L1489.1 582.5L1489.7 580.6L1490.4 578.8L1491.1 576.9L1491.7 575.0L1492.4 573.1L1493.0 571.2L1493.7 569.3L1494.4 567.4L1495.0 565.5L1495.7 563.6L1496.3 561.7L1497.0 559.9L1497.7 558.0L1498.3 556.1L1499.0 554.2L1499.7 552.3L1500.4 550.4L1501.0 548.5L1501.7 546.6L1502.4 544.8L1503.1 542.9L1503.8 541.0L1504.4 539.1L1505.1 537.2L1505.8 535.4L1506.5 533.5L1507.2 531.6L1507.9 529.7L1508.6 527.9L1509.4 526.0L1510.1 524.1L1510.8 522.3L1511.5 520.4L1512.3 518.5L1513.0 516.7L1513.7 514.8L1514.5 513.0L1515.2 511.1L1516.0 509.3L1516.7 507.4L1517.5 505.6L1518.3 503.7L1519.0 501.8L1519.8 500.0L1520.6 498.1L1521.4 496.3L1522.2 494.4L1523.0 492.6L1523.8 490.8L1524.6 488.9L1525.5 487.1L1526.3 485.3L1527.2 483.5L1528.1 481.7L1529.0 480.0L1529.9 478.2L1530.8 476.5L1531.8 474.7L1532.8 473.0L1533.8 471.3L1534.9 469.6L1536.0 467.9L1537.1 466.2L1538.2 464.6L1539.3 462.9L1540.4 461.2L1541.6 459.6L1542.7 457.9L1543.8 456.3L1545.0 454.6L1546.1 453.0L1547.3 451.3L1548.4 449.7L1549.5 448.0L1550.7 446.4L1551.8 444.7L1552.9 443.0L1554.0 441.4L1555.2 439.7L1556.3 438.1L1557.5 436.5L1558.6 434.8L1559.8 433.2L1560.9 431.6L1562.1 429.9L1563.3 428.3L1564.5 426.7L1565.7 425.1L1566.9 423.5L1568.1 421.9L1569.3 420.2L1570.5 418.6L1571.7 417.0L1573.0 415.4L1574.2 413.9L1575.6 412.4L1576.9 411.0L1578.4 409.7L1579.9 408.2L1581.6 406.7L1583.3 405.4L1585.0 404.6L1586.7 404.6L1588.6 405.1L1590.5 406.1L1592.3 407.4L1593.8 408.6L1595.1 409.9L1596.3 411.4L1597.4 413.2L1598.4 415.0L1599.4 416.8L1600.3 418.7L1601.2 420.5L1602.1 422.3L1603.0 424.1L1603.9 425.9L1604.7 427.7L1605.5 429.6L1606.2 431.5L1606.9 433.3L1607.5 435.2L1608.0 437.1L1608.5 439.1L1609.0 441.0L1609.4 442.9L1609.9 444.9L1610.3 446.9L1610.6 448.8L1611.0 450.8L1611.4 452.8L1611.7 454.8L1612.1 456.7L1612.4 458.7L1612.8 460.7L1613.1 462.7L1613.5 464.6L1613.8 466.6L1614.2 468.6L1614.5 470.6L1614.8 472.5L1615.2 474.5L1615.5 476.5L1615.8 478.5L1616.1 480.4L1616.5 482.4L1616.8 484.4L1617.1 486.4L1617.4 488.3L1617.7 490.3L1617.9 492.3L1618.2 494.3L1618.5 496.3L1618.8 498.3L1619.0 500.2L1619.3 502.2L1619.5 504.2L1619.8 506.2L1620.0 508.2L1620.2 510.2L1620.5 512.2L1620.7 514.1L1620.9 516.1L1621.1 518.1L1621.4 520.1L1621.6 522.1L1621.8 524.1L1622.0 526.1L1622.2 528.1L1622.4 530.1L1622.6 532.1L1622.8 534.1L1623.0 536.0L1623.2 538.0L1623.4 540.0L1623.7 542.0L1623.9 544.0L1624.1 546.0L1624.3 548.0L1624.5 550.0L1624.8 552.0L1625.0 553.9L1625.2 555.9L1625.4 557.9L1625.6 559.9L1625.9 561.9L1626.1 563.9L1626.3 565.9L1626.5 567.9L1626.8 569.9L1627.0 571.8L1627.2 573.8L1627.4 575.8L1627.7 577.8L1627.9 579.8L1628.1 581.8L1628.4 583.8L1628.6 585.8L1628.8 587.8L1629.0 589.7L1629.3 591.7L1629.5 593.7L1629.7 595.7L1630.0 597.7L1630.2 599.7L1630.4 601.7L1630.7 603.7L1630.9 605.6L1631.1 607.6L1631.4 609.6L1631.6 611.6L1631.8 613.6L1632.0 615.6L1632.3 617.6L1632.5 619.6L1632.7 621.6L1633.0 623.5L1633.2 625.5L1633.5 627.5L1633.7 629.5L1633.9 631.5L1634.2 633.5L1634.4 635.5L1634.7 637.5L1634.9 639.4L1635.2 641.4L1635.4 643.4L1635.7 645.4L1635.9 647.4L1636.2 649.4L1636.4 651.3L1636.7 653.3L1637.0 655.3L1637.2 657.3L1637.5 659.3L1637.8 661.3L1638.1 663.2L1638.4 665.2L1638.7 667.2L1639.0 669.2L1639.2 671.2L1639.5 673.1L1639.8 675.1L1640.1 677.1L1640.4 679.1L1640.8 681.1L1641.1 683.0L1641.4 685.0L1641.7 687.0L1642.0 689.0L1642.3 690.9L1642.6 692.9L1642.9 694.9L1643.2 696.9L1643.5 698.9L1643.8 700.8L1644.1 702.8L1644.4 704.8L1644.7 706.8L1645.0 708.8L1645.3 710.7L1645.5 712.7L1645.8 714.7L1646.1 716.7L1646.4 718.7L1646.7 720.6L1647.0 722.6L1647.2 724.6L1647.5 726.6L1647.8 728.6L1648.1 730.6L1648.3 732.5L1648.6 734.5L1648.9 736.5L1649.2 738.5L1649.4 740.5L1649.7 742.5L1650.0 744.4L1650.2 746.4L1650.5 748.4L1650.8 750.4L1651.1 752.4L1651.3 754.4L1651.6 756.3L1651.9 758.3L1652.1 760.3L1652.4 762.3L1652.7 764.3L1652.9 766.3L1653.2 768.2L1653.5 770.2L1653.7 772.2L1654.0 774.2L1654.3 776.2L1654.5 778.2L1654.8 780.1L1655.1 782.1L1655.4 784.1L1655.6 786.1L1655.9 788.1L1656.2 790.1L1656.5 792.0L1656.7 794.0L1657.0 796.0L1657.3 798.0L1657.6 800.0L1657.9 801.9L1658.1 803.9L1658.4 805.9L1658.7 807.9L1659.0 809.9L1659.3 811.8L1659.6 813.8L1659.9 815.8L1660.2 817.8L1660.4 819.8L1660.7 821.7L1661.0 823.7L1661.3 825.7L1661.6 827.7L1661.9 829.7L1662.2 831.6L1662.5 833.6L1662.8 835.6L1663.1 837.6L1663.4 839.6L1663.7 841.6L1664.0 843.5L1664.3 845.5L1664.6 847.5L1665.0 849.5L1665.3 851.4L1665.6 853.4L1666.0 855.4L1666.4 857.3L1666.7 859.3L1667.1 861.3L1667.6 863.2L1668.0 865.2L1668.5 867.1L1669.0 869.0L1669.6 871.0L1670.1 872.9L1670.7 874.8L1671.3 876.7L1671.9 878.6L1672.5 880.5L1673.1 882.5L1673.7 884.4L1674.3 886.3L1674.9 888.2L1675.5 890.1L1676.1 892.0L1676.8 893.9L1677.4 895.8L1678.1 897.7L1678.8 899.5L1679.5 901.4L1680.2 903.3L1681.0 905.1L1681.7 907.0L1682.4 908.9L1683.2 910.7L1684.0 912.6L1684.8 914.4L1685.6 916.3L1686.5 918.1L1687.4 919.9L1688.2 921.7L1689.2 923.4L1690.1 925.2L1691.1 926.9L1692.1 928.6L1693.2 930.3L1694.3 931.9L1695.4 933.6L1696.6 935.2L1697.7 936.9L1698.9 938.5L1700.1 940.1L1701.4 941.7L1702.6 943.3L1703.8 944.9L1705.0 946.5L1706.3 948.1L1707.5 949.6L1708.7 951.2L1710.0 952.8L1711.2 954.4L1712.5 956.0L1713.8 957.5L1715.1 959.0L1716.4 960.5L1717.9 961.9L1719.4 963.3L1721.0 964.9L1722.7 966.4L1724.3 967.5L1725.9 968.0L1727.3 967.5L1728.7 965.9L1730.0 963.9L1731.0 962.0L1731.8 960.3L1732.6 958.4L1733.2 956.5L1733.9 954.5L1734.4 952.6L1734.9 950.6L1735.3 948.7L1735.7 946.7L1736.1 944.8L1736.4 942.8L1736.8 940.9L1737.1 938.9L1737.4 936.9L1737.8 935.0L1738.0 933.0L1738.3 931.0L1738.6 929.0L1738.9 927.0L1739.1 925.0L1739.4 923.0L1739.6 921.0L1739.9 919.1L1740.1 917.1L1740.4 915.1L1740.6 913.1L1740.8 911.1L1741.1 909.1L1741.3 907.1L1741.6 905.1L1741.9 903.1L1742.1 901.1L1742.4 899.1L1742.6 897.2L1742.9 895.2L1743.2 893.2L1743.4 891.2L1743.7 889.2L1743.9 887.2L1744.2 885.2L1744.4 883.3L1744.6 881.3L1744.9 879.3L1745.1 877.3L1745.4 875.3L1745.6 873.3L1745.8 871.3L1746.1 869.3L1746.3 867.4L1746.6 865.4L1746.8 863.4L1747.0 861.4L1747.3 859.4L1747.5 857.4L1747.7 855.4L1748.0 853.4L1748.2 851.5L1748.4 849.5L1748.7 847.5L1748.9 845.5L1749.2 843.5L1749.4 841.5L1749.6 839.5L1749.9 837.5L1750.1 835.6L1750.4 833.6L1750.6 831.6L1750.9 829.6L1751.1 827.6L1751.4 825.6L1751.7 823.6L1751.9 821.7L1752.2 819.7L1752.4 817.7L1752.7 815.7L1752.9 813.7L1753.2 811.7L1753.5 809.8L1753.7 807.8L1754.0 805.8L1754.3 803.8L1754.5 801.8L1754.8 799.8L1755.1 797.9L1755.3 795.9L1755.6 793.9L1755.9 791.9L1756.1 789.9L1756.4 787.9L1756.7 786.0L1756.9 784.0L1757.2 782.0L1757.5 780.0L1757.7 778.0L1758.0 776.0L1758.3 774.1L1758.5 772.1L1758.8 770.1L1759.1 768.1L1759.3 766.1L1759.6 764.1L1759.9 762.2L1760.1 760.2L1760.4 758.2L1760.7 756.2L1761.0 754.2L1761.2 752.2L1761.5 750.2L1761.8 748.3L1762.0 746.3L1762.3 744.3L1762.6 742.3L1762.8 740.3L1763.1 738.4L1763.4 736.4L1763.7 734.4L1763.9 732.4L1764.2 730.4L1764.5 728.4L1764.7 726.5L1765.0 724.5L1765.3 722.5L1765.5 720.5L1765.8 718.5L1766.1 716.5L1766.3 714.6L1766.6 712.6L1766.9 710.6L1767.1 708.6L1767.4 706.6L1767.7 704.6L1767.9 702.6L1768.2 700.7L1768.4 698.7L1768.7 696.7L1769.0 694.7L1769.2 692.7L1769.5 690.7L1769.7 688.8L1770.0 686.8L1770.2 684.8L1770.5 682.8L1770.7 680.8L1771.0 678.8L1771.3 676.8L1771.5 674.9L1771.8 672.9L1772.0 670.9L1772.3 668.9L1772.5 666.9L1772.8 664.9L1773.0 662.9L1773.3 661.0L1773.5 659.0L1773.8 657.0L1774.0 655.0" stroke="#e60f32" stroke-dasharray="28.4 28.6" stroke-dashoffset="2.4"/>
<path d="M228.0 503.5L230.0 503.5L232.0 503.6L234.0 503.6L236.0 503.7L238.0 503.7L240.0 503.8L242.0 503.8L244.0 503.8L246.0 503.9L248.0 503.9L250.0 504.0L252.0 504.0L254.0 504.1L256.0 504.1L258.0 504.1L260.0 504.2L262.0 504.2L264.0 504.3L266.0 504.3L268.0 504.4L270.0 504.4L272.0 504.4L274.0 504.5L276.0 504.5L278.0 504.6L280.0 504.6L282.0 504.6L284.0 504.7L286.0 504.7L288.0 504.8L290.1 504.8L292.1 504.8L294.1 504.9L296.1 504.9L298.1 505.0L300.1 505.0L302.1 505.0L304.1 505.1L306.1 505.1L308.1 505.2L310.1 505.2L312.1 505.2L314.1 505.3L316.1 505.3L318.1 505.3L320.1 505.4L322.1 505.4L324.1 505.5L326.1 505.5L328.1 505.5L330.1 505.6L332.1 505.6L334.1 505.6L336.1 505.7L338.1 505.7L340.1 505.7L342.1 505.8L344.1 505.8L346.1 505.9L348.1 505.9L350.1 505.9L352.1 506.0L354.1 506.0L356.1 506.0L358.1 506.1L360.1 506.1L362.1 506.1L364.1 506.2L366.1 506.2L368.1 506.3L370.1 506.3L372.1 506.3L374.1 506.4L376.1 506.4L378.1 506.5L380.1 506.5L382.1 506.5L384.1 506.6L386.1 506.6L388.1 506.6L390.1 506.7L392.1 506.7L394.1 506.8L396.1 506.8L398.1 506.9L400.1 506.9L402.1 507.0L404.1 507.0L406.1 507.2L408.1 507.3L410.1 507.5L412.1 507.7L414.1 507.9L416.1 508.1L418.1 508.4L420.1 508.6L422.1 508.8L424.1 509.1L426.1 509.3L428.1 509.5L430.1 509.6L432.0 509.8L434.0 509.8L436.0 509.9L438.0 510.0L440.0 510.1L442.0 510.2L444.0 510.3L446.0 510.4L448.0 510.4L450.0 510.5L452.0 510.6L454.0 510.7L456.0 510.7L458.0 510.8L460.0 510.9L462.0 510.9L464.0 511.0L466.0 511.1L468.0 511.1L470.0 511.2L472.0 511.3L474.0 511.3L476.0 511.4L478.0 511.4L480.0 511.5L482.0 511.5L484.0 511.6L486.0 511.6L488.0 511.7L490.0 511.7L492.0 511.8L494.0 511.8L496.0 511.9L498.0 511.9L500.0 512.0L502.0 512.0L504.0 512.1L506.0 512.1L508.0 512.2L510.0 512.2L512.0 512.2L514.1 512.3L516.1 512.3L518.1 512.4L520.1 512.4L522.1 512.4L524.1 512.5L526.1 512.5L528.1 512.6L530.1 512.6L532.1 512.6L534.1 512.7L536.1 512.7L538.1 512.7L540.1 512.8L542.1 512.8L544.1 512.9L546.1 512.9L548.1 512.9L550.1 513.0L552.1 513.0L554.1 513.0L556.1 513.1L558.1 513.1L560.1 513.1L562.1 513.2L564.1 513.2L566.1 513.3L568.1 513.3L570.1 513.3L572.1 513.4L574.1 513.4L576.1 513.5L578.1 513.5L580.1 513.5L582.1 513.6L584.2 513.6L586.2 513.7L588.2 513.7L590.2 513.8L592.2 513.8L594.2 513.9L596.2 513.9L598.2 514.0L600.2 514.0L602.2 514.1L604.2 514.1L606.2 514.2L608.2 514.2L610.2 514.3L612.2 514.3L614.2 514.4L616.2 514.4L618.2 514.5L620.2 514.5L622.2 514.6L624.2 514.6L626.2 514.7L628.2 514.7L630.2 514.8L632.2 514.8L634.2 514.9L636.2 514.9L638.2 515.0L640.2 515.0L642.2 515.1L644.2 515.1L646.2 515.2L648.2 515.2L650.2 515.3L652.2 515.3L654.2 515.4L656.2 515.4L658.2 515.5L660.2 515.5L662.2 515.6L664.2 515.6L666.2 515.7L668.2 515.7L670.2 515.8L672.2 515.8L674.2 515.9L676.2 515.9L678.2 516.0L680.2 516.0L682.2 516.1L684.2 516.1L686.2 516.2L688.2 516.2L690.2 516.3L692.2 516.3L694.2 516.4L696.2 516.4L698.2 516.5L700.2 516.5L702.2 516.6L704.2 516.6L706.2 516.7L708.2 516.7L710.2 516.8L712.2 516.8L714.2 516.9L716.2 516.9L718.3 517.0L720.3 517.0L722.3 517.1L724.3 517.1L726.3 517.2L728.3 517.2L730.3 517.3L732.3 517.3L734.3 517.4L736.3 517.4L738.3 517.5L740.3 517.5L742.3 517.6L744.3 517.6L746.3 517.7L748.3 517.7L750.3 517.8L752.3 517.8L754.3 517.9L756.3 517.9L758.3 518.0L760.3 518.0L762.3 518.1L764.3 518.1L766.3 518.2L768.3 518.2L770.3 518.3L772.3 518.3L774.3 518.4L776.3 518.4L778.3 518.5L780.3 518.5L782.3 518.6L784.3 518.6L786.3 518.7L788.3 518.7L790.3 518.8L792.3 518.8L794.3 518.9L796.3 518.9L798.3 519.0L800.3 519.0L802.3 519.1L804.3 519.1L806.3 519.1L808.3 519.2L810.3 519.2L812.3 519.3L814.3 519.3L816.3 519.4L818.3 519.4L820.3 519.5L822.3 519.5L824.3 519.6L826.3 519.6L828.3 519.7L830.3 519.7L832.3 519.8L834.3 519.8L836.3 519.8L838.3 519.9L840.3 519.9L842.3 520.0L844.3 520.0L846.3 520.1L848.3 520.1L850.3 520.2L852.4 520.2L854.4 520.3L856.4 520.3L858.4 520.4L860.4 520.4L862.4 520.4L864.4 520.5L866.4 520.5L868.4 520.6L870.4 520.6L872.4 520.7L874.4 520.7L876.4 520.8L878.4 520.8L880.4 520.9L882.4 520.9L884.4 520.9L886.4 521.0L888.4 521.0L890.4 521.1L892.4 521.1L894.4 521.2L896.4 521.2L898.4 521.3L900.4 521.3L902.4 521.3L904.4 521.4L906.4 521.4L908.4 521.5L910.4 521.5L912.4 521.6L914.4 521.6L916.4 521.7L918.4 521.7L920.4 521.7L922.4 521.8L924.4 521.8L926.4 521.9L928.4 521.9L930.4 522.0L932.4 522.0L934.4 522.1L936.4 522.1L938.4 522.1L940.4 522.2L942.4 522.2L944.4 522.3L946.4 522.3L948.4 522.4L950.4 522.4L952.4 522.5L954.4 522.5L956.4 522.5L958.4 522.6L960.4 522.6L962.4 522.7L964.4 522.7L966.4 522.8L968.4 522.8L970.4 522.8L972.4 522.9L974.4 522.9L976.4 523.0L978.5 523.0L980.5 523.1L982.5 523.1L984.5 523.2L986.5 523.2L988.5 523.2L990.5 523.3L992.5 523.3L994.5 523.4L996.5 523.4L998.5 523.5L1000.5 523.5L1002.5 523.6L1004.5 523.6L1006.5 523.6L1008.5 523.7L1010.5 523.7L1012.5 523.8L1014.5 523.8L1016.5 523.9L1018.5 523.9L1020.5 524.0L1022.5 524.0L1024.5 524.1L1026.5 524.1L1028.5 524.2L1030.5 524.2L1032.5 524.2L1034.5 524.3L1036.5 524.3L1038.5 524.4L1040.5 524.4L1042.5 524.5L1044.5 524.5L1046.5 524.6L1048.5 524.6L1050.5 524.7L1052.5 524.7L1054.5 524.8L1056.5 524.8L1058.5 524.9L1060.5 524.9L1062.5 525.0L1064.5 525.0L1066.5 525.1L1068.5 525.1L1070.5 525.2L1072.5 525.2L1074.5 525.2L1076.5 525.3L1078.5 525.3L1080.5 525.4L1082.5 525.4L1084.5 525.5L1086.5 525.5L1088.5 525.6L1090.5 525.6L1092.5 525.7L1094.5 525.7L1096.5 525.8L1098.5 525.8L1100.5 525.9L1102.5 525.9L1104.5 525.9L1106.5 526.0L1108.6 526.0L1110.6 526.1L1112.6 526.1L1114.6 526.2L1116.6 526.2L1118.6 526.3L1120.6 526.3L1122.6 526.3L1124.6 526.4L1126.6 526.4L1128.6 526.5L1130.6 526.5L1132.6 526.6L1134.6 526.6L1136.6 526.6L1138.6 526.7L1140.6 526.7L1142.6 526.8L1144.6 526.8L1146.6 526.8L1148.6 526.9L1150.6 526.9L1152.6 527.0L1154.6 527.0L1156.6 527.0L1158.6 527.1L1160.6 527.1L1162.6 527.1L1164.6 527.2L1166.6 527.2L1168.6 527.2L1170.6 527.3L1172.6 527.3L1174.6 527.3L1176.6 527.4L1178.6 527.4L1180.6 527.4L1182.6 527.5L1184.6 527.5L1186.6 527.5L1188.6 527.5L1190.6 527.6L1192.6 527.6L1194.8 527.7L1196.2 528.6L1196.6 530.6L1196.8 532.6L1196.9 534.6L1197.0 536.6L1197.0 538.7L1197.1 540.7L1197.2 542.7L1197.3 544.7L1197.4 546.7L1197.5 548.7L1197.6 550.7L1197.6 552.7L1197.7 554.7L1197.8 556.7L1197.9 558.7L1198.0 560.7L1198.0 562.7L1198.1 564.7L1198.2 566.7L1198.2 568.7L1198.3 570.7L1198.4 572.7L1198.4 574.7L1198.5 576.7L1198.6 578.7L1198.6 580.7L1198.7 582.7L1198.7 584.7L1198.8 586.7L1198.9 588.7L1198.9 590.7L1199.0 592.7L1199.1 594.7L1199.1 596.7L1199.2 598.7L1199.2 600.7L1199.3 602.7L1199.3 604.7L1199.4 606.7L1199.4 608.7L1199.5 610.7L1199.6 612.7L1199.6 614.7L1199.7 616.7L1199.7 618.7L1199.8 620.7L1199.8 622.7L1199.9 624.7L1199.9 626.7L1200.0 628.7L1200.0 630.7L1200.1 632.7L1200.1 634.7L1200.2 636.7L1200.2 638.7L1200.3 640.7L1200.3 642.7L1200.4 644.7L1200.4 646.7L1200.5 648.7L1200.5 650.7L1200.6 652.7L1200.6 654.7L1200.7 656.7L1200.7 658.7L1200.8 660.7L1200.8 662.7L1200.9 664.8L1200.9 666.8L1201.0 668.8L1201.0 670.8L1201.1 672.8L1201.1 674.8L1201.2 676.8L1201.2 678.8L1201.3 680.8L1201.3 682.8L1201.4 684.8L1201.4 686.8L1201.5 688.8L1201.5 690.8L1201.6 692.8L1201.6 694.8L1201.7 696.8L1201.7 698.8L1201.8 700.8L1201.8 702.8L1201.9 704.8L1201.9 706.8L1202.0 708.8L1202.0 710.8L1202.1 712.8L1202.2 714.8L1202.2 716.8L1202.3 718.8L1202.3 720.8L1202.4 722.8L1202.4 724.8L1202.5 726.8L1202.6 728.8L1202.6 730.8L1202.7 732.8L1202.8 734.8L1202.8 736.8L1202.9 738.8L1202.9 740.8L1203.0 742.8L1203.1 744.8L1203.1 746.8L1203.2 748.8L1203.3 750.8L1203.3 752.8L1203.4 754.8L1203.5 756.8L1203.5 758.8L1203.6 760.8L1203.7 762.8L1203.7 764.8L1203.8 766.8L1203.9 768.8L1203.9 770.8L1204.0 772.8L1204.1 774.8L1204.1 776.8L1204.2 778.8L1204.3 780.8L1204.4 782.8L1204.4 784.8L1204.5 786.8L1204.5 788.8L1204.6 790.8L1204.7 792.8L1204.7 794.8L1204.8 796.8L1204.9 798.8L1204.9 800.8L1205.0 802.8L1205.1 804.8L1205.1 806.8L1205.2 808.8L1205.2 810.8L1205.3 812.8L1205.4 814.8L1205.4 816.8L1205.5 818.8L1205.5 820.8L1205.6 822.8L1205.6 824.8L1205.7 826.8L1205.7 828.8L1205.8 830.8L1205.8 832.9L1205.9 834.9L1205.9 836.9L1206.0 838.9L1206.0 840.9L1206.1 842.9L1206.1 844.9L1206.2 846.9L1206.2 848.9L1206.3 850.9L1206.3 852.9L1206.4 854.9L1206.4 856.9L1206.5 858.9L1206.5 860.9L1206.6 862.9L1206.6 864.9L1206.7 866.9L1206.7 868.9L1206.8 870.9L1206.8 872.9L1206.9 874.9L1206.9 876.9L1207.0 878.9L1207.0 880.9L1207.0 882.9L1207.1 884.9L1207.1 886.9L1207.2 888.9L1207.2 890.9L1207.3 892.9L1207.3 894.9L1207.4 896.9L1207.4 898.9L1207.5 900.9L1207.5 902.9L1207.6 904.9L1207.6 906.9L1207.7 908.9L1207.7 910.9L1207.7 912.9L1207.8 914.9L1207.8 916.9L1207.8 918.9L1207.9 921.0L1207.9 923.0L1207.9 925.0L1208.0 927.0L1208.0 929.0L1208.0 931.0L1208.0 933.0L1208.1 935.0L1208.1 937.0L1208.1 939.0L1208.1 941.1L1208.2 943.1L1208.2 945.1L1208.2 947.1L1208.3 949.1L1208.3 951.1L1208.3 953.1L1208.3 955.1L1208.4 957.1L1208.4 959.1L1208.4 961.2L1208.5 963.2L1208.5 965.2L1208.6 967.2L1208.6 969.2L1208.6 971.2L1208.7 973.2L1208.7 975.2L1208.8 977.2L1208.9 979.2L1208.9 981.2L1209.0 983.2L1209.0 985.2L1209.1 987.2L1209.2 989.1L1209.3 991.1L1209.3 993.1L1209.4 995.1L1209.5 997.1L1209.6 999.1L1209.7 1001.1L1209.8 1003.0L1209.9 1005.0L1210.0 1007.0L1210.2 1009.1L1210.5 1011.4L1211.1 1013.2L1212.1 1014.4L1214.1 1015.0L1215.0 1014.1L1215.7 1012.1L1216.2 1009.7L1216.9 1007.4L1217.6 1005.5L1218.3 1003.5L1219.0 1001.5L1219.9 999.7L1220.9 998.2L1222.2 996.9L1223.8 995.8L1225.7 994.9L1227.7 994.0L1229.5 993.3L1231.4 992.5L1233.3 991.8L1235.2 991.0L1237.1 990.3L1239.1 989.7L1241.0 989.2L1243.0 988.8L1245.0 988.5L1246.9 988.4L1248.9 988.5L1250.8 988.6L1252.8 988.9L1254.8 989.2L1256.8 989.6L1258.8 990.0L1260.7 990.4L1262.7 990.9L1264.7 991.3L1266.7 991.6L1268.6 992.0L1270.6 992.3L1272.6 992.7L1274.6 993.0L1276.6 993.4L1278.5 993.8L1280.5 994.2L1282.4 994.6L1284.4 995.1L1286.3 995.6L1288.2 996.1L1290.2 996.7L1292.1 997.3L1294.1 998.0L1296.0 998.7L1297.9 999.4L1299.7 1000.2L1301.4 1001.1L1303.1 1002.1L1304.7 1003.2L1306.3 1004.5L1307.8 1005.9L1309.1 1007.4L1310.2 1009.0L1311.1 1010.8L1312.0 1012.6L1312.7 1014.5L1313.4 1016.4L1314.0 1018.3L1314.5 1020.2L1314.9 1022.2L1315.4 1024.1L1315.8 1026.1L1316.2 1028.0L1316.5 1030.0L1316.9 1032.0L1317.2 1034.0L1317.5 1036.0L1317.9 1038.0L1318.3 1040.0L1318.6 1041.9L1319.0 1043.9L1319.5 1045.9L1320.0 1047.8L1320.5 1049.7L1321.0 1051.7L1321.6 1053.6L1322.1 1055.5L1322.7 1057.4L1323.3 1059.4L1324.0 1061.3L1324.6 1063.2L1325.3 1065.1L1326.0 1066.9L1326.8 1068.8L1327.5 1070.6L1328.3 1072.4L1329.2 1074.3L1330.1 1076.1L1331.0 1077.9L1332.0 1079.7L1333.1 1081.4L1334.4 1082.9L1335.8 1084.3L1337.4 1085.8L1339.1 1087.0L1340.9 1087.5L1342.7 1087.2L1344.6 1086.3L1346.5 1085.3L1348.1 1084.3L1349.7 1083.0L1351.2 1081.6L1352.6 1080.1L1353.9 1078.6L1355.1 1077.1L1356.3 1075.5L1357.4 1073.9L1358.5 1072.2L1359.6 1070.5L1360.6 1068.7L1361.6 1067.0L1362.6 1065.2L1363.5 1063.4L1364.4 1061.6L1365.3 1059.8L1366.2 1058.0L1367.0 1056.2L1367.8 1054.4L1368.6 1052.5L1369.4 1050.7L1370.1 1048.8L1370.9 1047.0L1371.6 1045.1L1372.3 1043.2L1373.0 1041.3L1373.7 1039.4L1374.4 1037.5L1375.1 1035.6L1375.7 1033.7L1376.3 1031.8L1376.9 1029.9L1377.5 1028.0L1378.1 1026.1L1378.7 1024.2L1379.2 1022.2L1379.7 1020.3L1380.3 1018.4L1380.8 1016.5L1381.3 1014.5L1381.7 1012.6L1382.2 1010.7L1382.7 1008.7L1383.1 1006.8L1383.6 1004.8L1384.0 1002.9L1384.4 1000.9L1384.8 998.9L1385.2 997.0L1385.7 995.0L1386.1 993.0L1386.5 991.1L1386.9 989.1L1387.3 987.1L1387.7 985.2L1388.1 983.2L1388.5 981.2L1388.9 979.3L1389.3 977.3L1389.7 975.4L1390.1 973.4L1390.6 971.4L1391.0 969.5L1391.4 967.5L1391.9 965.6L1392.3 963.6L1392.8 961.7L1393.2 959.7L1393.7 957.8L1394.2 955.8L1394.6 953.9L1395.1 951.9L1395.5 950.0L1396.0 948.0L1396.5 946.1L1396.9 944.1L1397.4 942.2L1397.9 940.2L1398.4 938.3L1398.8 936.4L1399.3 934.4L1399.8 932.5L1400.3 930.5L1400.7 928.6L1401.2 926.6L1401.7 924.7L1402.2 922.7L1402.7 920.8L1403.1 918.9L1403.6 916.9L1404.1 915.0L1404.6 913.0L1405.1 911.1L1405.6 909.1L1406.1 907.2L1406.6 905.3L1407.1 903.3L1407.6 901.4L1408.1 899.5L1408.6 897.5L1409.1 895.6L1409.6 893.6L1410.1 891.7L1410.6 889.8L1411.0 887.8L1411.5 885.9L1412.0 883.9L1412.5 882.0L1413.0 880.0L1413.5 878.1L1414.0 876.2L1414.4 874.2L1414.9 872.3L1415.4 870.3L1415.8 868.4L1416.3 866.4L1416.8 864.5L1417.2 862.5L1417.7 860.6L1418.2 858.6L1418.6 856.7L1419.1 854.7L1419.5 852.8L1420.0 850.8L1420.5 848.9L1420.9 846.9L1421.4 845.0L1421.8 843.0L1422.3 841.1L1422.7 839.1L1423.2 837.2L1423.6 835.2L1424.1 833.3L1424.5 831.3L1425.0 829.4L1425.4 827.4L1425.9 825.5L1426.3 823.5L1426.8 821.6L1427.2 819.6L1427.6 817.7L1428.1 815.7L1428.5 813.8L1429.0 811.8L1429.4 809.9L1429.8 807.9L1430.3 805.9L1430.7 804.0L1431.1 802.0L1431.6 800.1L1432.0 798.1L1432.4 796.2L1432.8 794.2L1433.3 792.3L1433.7 790.3L1434.1 788.3L1434.6 786.4L1435.0 784.4L1435.5 782.5L1435.9 780.5L1436.3 778.6L1436.8 776.6L1437.2 774.7L1437.7 772.7L1438.1 770.8L1438.5 768.8L1439.0 766.9L1439.4 764.9L1439.9 763.0L1440.3 761.0L1440.8 759.1L1441.2 757.1L1441.7 755.2L1442.2 753.2L1442.6 751.3L1443.1 749.3L1443.6 747.4L1444.0 745.4L1444.5 743.5L1445.0 741.5L1445.5 739.6L1446.0 737.7L1446.5 735.7L1447.0 733.8L1447.5 731.8L1448.0 729.9L1448.5 728.0L1449.0 726.0L1449.5 724.1L1450.0 722.2L1450.5 720.2L1451.0 718.3L1451.5 716.4L1452.0 714.4L1452.6 712.5L1453.1 710.6L1453.6 708.6L1454.1 706.7L1454.7 704.8L1455.2 702.8L1455.8 700.9L1456.3 699.0L1456.8 697.0L1457.4 695.1L1457.9 693.2L1458.5 691.3L1459.0 689.3L1459.6 687.4L1460.1 685.5L1460.7 683.6L1461.3 681.6L1461.8 679.7L1462.4 677.8L1462.9 675.9L1463.5 674.0L1464.1 672.0L1464.7 670.1L1465.2 668.2L1465.8 666.3L1466.4 664.4L1467.0 662.5L1467.6 660.5L1468.1 658.6L1468.7 656.7L1469.3 654.8L1469.9 652.9L1470.5 651.0L1471.1 649.1L1471.7 647.2L1472.3 645.3L1472.9 643.3L1473.5 641.4L1474.1 639.5L1474.8 637.6L1475.4 635.7L1476.0 633.8L1476.6 631.9L1477.3 630.0L1477.9 628.1L1478.5 626.2L1479.2 624.3L1479.8 622.4L1480.4 620.5L1481.1 618.6L1481.7 616.7L1482.4 614.8L1483.0 613.0L1483.7 611.1L1484.4 609.2L1485.0 607.3L1485.7 605.4L1486.3 603.5L1487.0 601.6L1487.7 599.7L1488.4 597.8L1489.0 595.9L1489.7 594.1L1490.4 592.2L1491.1 590.3L1491.7 588.4L1492.4 586.5L1493.1 584.6L1493.8 582.8L1494.5 580.9L1495.2 579.0L1495.9 577.1L1496.5 575.3L1497.2 573.4L1497.9 571.5L1498.6 569.6L1499.3 567.7L1500.0 565.8L1500.7 564.0L1501.4 562.1L1502.1 560.2L1502.8 558.3L1503.5 556.5L1504.2 554.6L1504.9 552.7L1505.7 550.8L1506.4 549.0L1507.1 547.1L1507.8 545.2L1508.6 543.4L1509.3 541.5L1510.0 539.6L1510.8 537.8L1511.5 535.9L1512.3 534.1L1513.1 532.2L1513.8 530.4L1514.6 528.5L1515.4 526.7L1516.1 524.8L1516.9 523.0L1517.7 521.2L1518.5 519.3L1519.3 517.5L1520.1 515.7L1521.0 513.9L1521.8 512.0L1522.6 510.2L1523.5 508.4L1524.3 506.6L1525.2 504.8L1526.0 502.9L1526.9 501.1L1527.8 499.3L1528.7 497.5L1529.6 495.7L1530.5 494.0L1531.4 492.2L1532.4 490.4L1533.3 488.7L1534.3 486.9L1535.3 485.2L1536.3 483.5L1537.3 481.8L1538.4 480.1L1539.5 478.4L1540.6 476.7L1541.7 475.1L1542.8 473.4L1544.0 471.8L1545.2 470.1L1546.3 468.5L1547.5 466.9L1548.7 465.3L1549.9 463.7L1551.2 462.1L1552.4 460.5L1553.6 459.0L1554.9 457.4L1556.2 455.9L1557.5 454.4L1558.8 452.8L1560.1 451.3L1561.5 449.8L1562.8 448.4L1564.2 446.9L1565.5 445.4L1566.9 443.9L1568.2 442.3L1569.6 440.9L1571.1 439.5L1572.7 438.4L1574.4 437.3L1576.3 436.4L1578.1 436.0L1580.1 436.3L1582.1 437.1L1583.9 437.9L1585.5 438.9L1586.9 440.3L1588.3 441.8L1589.7 443.4L1591.0 445.0L1592.3 446.5L1593.6 448.0L1594.8 449.6L1596.1 451.2L1597.2 452.8L1598.3 454.5L1599.3 456.2L1600.2 457.9L1601.2 459.7L1602.1 461.5L1603.0 463.3L1603.8 465.1L1604.7 466.9L1605.5 468.8L1606.3 470.6L1607.1 472.5L1607.8 474.4L1608.5 476.2L1609.2 478.1L1609.9 480.0L1610.6 481.9L1611.2 483.8L1611.9 485.7L1612.5 487.6L1613.1 489.5L1613.6 491.4L1614.2 493.3L1614.8 495.2L1615.3 497.1L1615.8 499.1L1616.4 501.0L1616.9 503.0L1617.4 504.9L1617.8 506.9L1618.3 508.8L1618.8 510.8L1619.3 512.7L1619.7 514.7L1620.2 516.6L1620.7 518.6L1621.1 520.5L1621.6 522.5L1622.0 524.4L1622.5 526.4L1622.9 528.3L1623.3 530.3L1623.8 532.2L1624.2 534.2L1624.7 536.1L1625.1 538.1L1625.5 540.1L1625.9 542.0L1626.3 544.0L1626.8 545.9L1627.2 547.9L1627.6 549.9L1628.0 551.8L1628.4 553.8L1628.8 555.7L1629.2 557.7L1629.5 559.7L1629.9 561.6L1630.3 563.6L1630.7 565.6L1631.0 567.6L1631.4 569.5L1631.8 571.5L1632.1 573.5L1632.5 575.4L1632.8 577.4L1633.1 579.4L1633.5 581.4L1633.8 583.3L1634.1 585.3L1634.4 587.3L1634.7 589.3L1635.0 591.2L1635.3 593.2L1635.6 595.2L1635.9 597.2L1636.2 599.2L1636.4 601.1L1636.7 603.1L1637.0 605.1L1637.2 607.1L1637.5 609.1L1637.8 611.1L1638.0 613.0L1638.3 615.0L1638.6 617.0L1638.8 619.0L1639.1 621.0L1639.3 623.0L1639.6 625.0L1639.9 626.9L1640.1 628.9L1640.4 630.9L1640.7 632.9L1640.9 634.9L1641.2 636.9L1641.5 638.9L1641.8 640.8L1642.1 642.8L1642.4 644.8L1642.7 646.8L1643.0 648.8L1643.2 650.7L1643.5 652.7L1643.8 654.7L1644.1 656.7L1644.4 658.7L1644.7 660.6L1645.0 662.6L1645.3 664.6L1645.6 666.6L1645.9 668.6L1646.2 670.5L1646.5 672.5L1646.8 674.5L1647.1 676.5L1647.4 678.4L1647.8 680.4L1648.1 682.4L1648.4 684.4L1648.7 686.4L1649.0 688.3L1649.3 690.3L1649.6 692.3L1649.9 694.3L1650.2 696.3L1650.5 698.2L1650.8 700.2L1651.1 702.2L1651.5 704.2L1651.8 706.1L1652.1 708.1L1652.4 710.1L1652.7 712.1L1653.0 714.1L1653.3 716.0L1653.6 718.0L1654.0 720.0L1654.3 722.0L1654.6 723.9L1654.9 725.9L1655.2 727.9L1655.5 729.9L1655.9 731.8L1656.2 733.8L1656.5 735.8L1656.8 737.8L1657.1 739.8L1657.5 741.7L1657.8 743.7L1658.1 745.7L1658.4 747.7L1658.8 749.6L1659.1 751.6L1659.4 753.6L1659.7 755.6L1660.0 757.5L1660.3 759.5L1660.7 761.5L1661.0 763.5L1661.3 765.5L1661.6 767.4L1661.9 769.4L1662.2 771.4L1662.5 773.4L1662.8 775.4L1663.1 777.3L1663.4 779.3L1663.7 781.3L1664.0 783.3L1664.3 785.3L1664.7 787.2L1665.0 789.2L1665.3 791.2L1665.7 793.2L1666.0 795.1L1666.3 797.1L1666.7 799.1L1667.1 801.0L1667.4 803.0L1667.8 805.0L1668.2 806.9L1668.6 808.9L1669.0 810.8L1669.4 812.8L1669.8 814.7L1670.3 816.7L1670.8 818.6L1671.3 820.6L1671.8 822.5L1672.3 824.4L1672.8 826.4L1673.3 828.3L1673.9 830.2L1674.4 832.2L1675.0 834.1L1675.5 836.0L1676.1 837.9L1676.6 839.9L1677.2 841.8L1677.7 843.7L1678.3 845.7L1678.8 847.6L1679.3 849.5L1679.8 851.5L1680.3 853.4L1680.8 855.3L1681.3 857.3L1681.8 859.2L1682.3 861.2L1682.8 863.1L1683.2 865.1L1683.7 867.0L1684.2 869.0L1684.6 870.9L1685.1 872.9L1685.5 874.8L1685.9 876.8L1686.4 878.7L1686.8 880.7L1687.1 882.7L1687.5 884.6L1687.8 886.6L1688.2 888.6L1688.5 890.5L1688.9 892.5L1689.3 894.5L1689.7 896.5L1690.0 898.4L1690.5 900.4L1690.9 902.3L1691.4 904.3L1691.9 906.2L1692.4 908.2L1692.9 910.1L1693.4 912.1L1694.0 914.0L1694.7 915.9L1695.3 917.8L1696.0 919.6L1696.8 921.4L1697.8 923.1L1698.8 924.8L1699.8 926.5L1701.0 928.2L1702.1 929.9L1703.3 931.5L1704.5 933.2L1705.6 934.8L1706.7 936.5L1707.7 938.3L1708.7 940.0L1709.7 941.9L1710.7 943.7L1711.7 945.4L1712.7 947.1L1713.9 948.7L1715.1 950.1L1716.6 951.6L1718.4 953.2L1720.1 954.4L1721.7 955.0L1723.1 954.5L1724.5 952.8L1725.7 950.7L1726.4 948.9L1727.0 947.1L1727.5 945.2L1728.0 943.2L1728.4 941.1L1728.8 939.1L1729.2 937.2L1729.6 935.2L1730.0 933.2L1730.4 931.3L1730.7 929.3L1731.1 927.4L1731.5 925.4L1731.8 923.4L1732.2 921.4L1732.5 919.5L1732.8 917.5L1733.1 915.5L1733.5 913.5L1733.8 911.5L1734.1 909.6L1734.3 907.6L1734.6 905.6L1734.9 903.6L1735.1 901.6L1735.4 899.6L1735.6 897.7L1735.9 895.7L1736.1 893.7L1736.3 891.7L1736.5 889.7L1736.8 887.7L1737.0 885.7L1737.2 883.7L1737.4 881.7L1737.6 879.8L1737.8 877.8L1737.9 875.8L1738.1 873.8L1738.3 871.8L1738.5 869.8L1738.7 867.8L1738.9 865.8L1739.0 863.8L1739.2 861.8L1739.4 859.8L1739.6 857.8L1739.8 855.8L1740.0 853.8L1740.2 851.8L1740.4 849.8L1740.6 847.8L1740.8 845.9L1741.0 843.9L1741.2 841.9L1741.4 839.9L1741.6 837.9L1741.8 835.9L1742.1 833.9L1742.3 831.9L1742.5 829.9L1742.8 827.9L1743.0 826.0L1743.2 824.0L1743.5 822.0L1743.7 820.0L1743.9 818.0L1744.2 816.0L1744.4 814.0L1744.7 812.0L1744.9 810.1L1745.1 808.1L1745.4 806.1L1745.6 804.1L1745.9 802.1L1746.2 800.1L1746.4 798.1L1746.7 796.1L1746.9 794.2L1747.2 792.2L1747.5 790.2L1747.7 788.2L1748.0 786.2L1748.3 784.2L1748.5 782.3L1748.8 780.3L1749.1 778.3L1749.4 776.3L1749.7 774.3L1750.0 772.4L1750.3 770.4L1750.6 768.4L1750.9 766.4L1751.2 764.4L1751.5 762.5L1751.8 760.5L1752.1 758.5L1752.4 756.5L1752.8 754.5L1753.1 752.6L1753.4 750.6L1753.7 748.6L1754.0 746.6L1754.3 744.7L1754.6 742.7L1754.9 740.7L1755.2 738.7L1755.4 736.7L1755.7 734.7L1756.0 732.8L1756.2 730.8L1756.5 728.8L1756.7 726.8L1757.0 724.8L1757.2 722.8L1757.5 720.9L1757.7 718.9L1758.0 716.9L1758.2 714.9L1758.4 712.9L1758.7 710.9L1758.9 708.9L1759.1 706.9L1759.3 704.9L1759.6 703.0L1759.8 701.0L1760.0 699.0L1760.3 697.0L1760.5 695.0L1760.7 693.0L1760.9 691.0L1761.2 689.0L1761.4 687.0L1761.6 685.0L1761.9 683.1L1762.1 681.1L1762.3 679.1L1762.6 677.1L1762.8 675.1L1763.0 673.1L1763.3 671.1L1763.5 669.1L1763.7 667.1L1763.9 665.1L1764.1 663.1L1764.3 661.2L1764.6 659.2L1764.8 657.2L1765.0 655.2L1765.2 653.2L1765.4 651.2L1765.6 649.2L1765.8 647.2L1766.0 645.2L1766.3 643.2L1766.5 641.2L1766.7 639.2L1767.0 637.2L1767.2 635.2L1767.5 633.2L1767.7 631.3L1768.0 629.3L1768.3 627.3L1768.6 625.3L1768.9 623.4L1769.2 621.4L1769.5 619.4L1769.9 617.5L1770.3 615.5L1770.7 613.6L1771.2 611.6L1771.7 609.7L1772.3 607.8L1772.9 605.9L1773.4 603.9L1774.0 602.0" stroke="#808080" stroke-dasharray="28.4 28.6" stroke-dashoffset="2.4"/>
<path d="M228.0 902.7H1774.2" stroke="#000" stroke-width="7.2" stroke-dasharray="28.5 28.45" stroke-dashoffset="0.8"/>
<path d="M1719.6 915.5L1721.2 933" stroke="#1a5ca8"/><path d="M1721 933L1721.4 938.2" stroke="#808080"/><path d="M1718.6 938.2L1718 945.5" stroke="#e60f32" stroke-width="5"/>
<path d="M228.0 503.5L230.0 503.5L232.0 503.6L234.0 503.6L236.0 503.7L238.0 503.7L240.0 503.8L242.0 503.8L244.0 503.8L246.0 503.9L248.0 503.9L250.0 504.0L252.0 504.0L254.0 504.1L256.0 504.1L258.0 504.1L260.0 504.2L262.0 504.2L264.0 504.3L266.0 504.3L268.0 504.4L270.0 504.4L272.0 504.4L274.0 504.5L276.0 504.5L278.0 504.6L280.0 504.6L282.0 504.6L284.0 504.7L286.0 504.7L288.0 504.8L290.0 504.8L292.0 504.8L294.0 504.9L296.0 504.9L298.0 505.0L300.0 505.0L302.0 505.0L304.0 505.1L306.0 505.1L308.0 505.2L310.0 505.2L312.0 505.2L314.0 505.3L316.0 505.3L318.0 505.3L320.0 505.4L322.0 505.4L324.0 505.5L326.0 505.5L328.0 505.5L330.0 505.6L332.0 505.6L334.0 505.6L336.0 505.7L338.0 505.7L340.0 505.7L342.0 505.8L344.1 505.8L346.1 505.9L348.1 505.9L350.1 505.9L352.1 506.0L354.1 506.0L356.1 506.0L358.1 506.1L360.1 506.1L362.1 506.1L364.1 506.2L366.1 506.2L368.1 506.3L370.1 506.3L372.1 506.3L374.1 506.4L376.1 506.4L378.1 506.5L380.1 506.5L382.1 506.5L384.1 506.6L386.1 506.6L388.1 506.6L390.1 506.7L392.1 506.7L394.1 506.8L396.1 506.8L398.1 506.9L400.1 506.9L402.1 507.0L404.1 507.0L406.1 507.1L408.1 507.2L410.1 507.4L412.1 507.7L414.0 508.2L415.9 508.9L417.5 510.0L419.0 511.4L420.3 512.9L421.4 514.6L422.3 516.4L423.0 518.3L423.7 520.2L424.3 522.1L424.7 524.0L425.0 526.0L425.3 528.0L425.6 530.0L425.8 532.0L426.1 534.0L426.3 536.0L426.5 537.9L426.7 539.9L426.9 541.9L427.1 543.9L427.3 545.9L427.4 547.9L427.6 549.9L427.8 551.9L427.9 553.9L428.1 555.9L428.3 557.9L428.5 559.9L428.7 561.9L428.9 563.8L429.2 565.8L429.5 567.8L429.7 569.8L430.0 571.8L430.2 573.8L430.5 575.8L430.7 577.8L430.9 579.7L431.1 581.7L431.2 583.7L431.4 585.7L431.6 587.7L431.7 589.7L431.9 591.7L432.0 593.7L432.2 595.7L432.3 597.7L432.4 599.7L432.6 601.7L432.7 603.7L432.8 605.7L433.0 607.7L433.1 609.7L433.2 611.7L433.4 613.7L433.5 615.7L433.6 617.7L433.8 619.7L433.9 621.7L434.0 623.7L434.2 625.7L434.3 627.6L434.5 629.6L434.6 631.6L434.7 633.6L434.9 635.6L435.0 637.6L435.2 639.6L435.3 641.6L435.4 643.6L435.6 645.6L435.7 647.6L435.9 649.6L436.0 651.6L436.1 653.6L436.3 655.6L436.4 657.6L436.5 659.6L436.7 661.6L436.8 663.6L437.0 665.6L437.1 667.6L437.2 669.6L437.4 671.6L437.5 673.6L437.6 675.6L437.8 677.6L437.9 679.6L438.1 681.6L438.2 683.5L438.3 685.5L438.5 687.5L438.6 689.5L438.7 691.5L438.9 693.5L439.0 695.5L439.1 697.5L439.3 699.5L439.4 701.5L439.6 703.5L439.7 705.5L439.8 707.5L440.0 709.5L440.1 711.5L440.2 713.5L440.4 715.5L440.5 717.5L440.7 719.5L440.8 721.5L440.9 723.5L441.1 725.5L441.2 727.5L441.4 729.5L441.5 731.5L441.6 733.5L441.8 735.5L441.9 737.5L442.1 739.5L442.2 741.4L442.3 743.4L442.5 745.4L442.6 747.4L442.8 749.4L442.9 751.4L443.0 753.4L443.2 755.4L443.3 757.4L443.5 759.4L443.6 761.4L443.7 763.4L443.9 765.4L444.0 767.4L444.1 769.4L444.3 771.4L444.4 773.4L444.5 775.4L444.7 777.4L444.8 779.4L444.9 781.4L445.0 783.4L445.2 785.4L445.3 787.4L445.4 789.4L445.5 791.4L445.7 793.4L445.8 795.4L445.9 797.4L446.0 799.4L446.1 801.4L446.2 803.4L446.4 805.4L446.5 807.4L446.6 809.3L446.7 811.3L446.8 813.3L446.9 815.3L447.0 817.3L447.1 819.3L447.2 821.3L447.3 823.3L447.4 825.3L447.5 827.3L447.7 829.3L447.8 831.3L447.9 833.3L448.0 835.3L448.1 837.3L448.2 839.3L448.3 841.3L448.4 843.3L448.5 845.3L448.6 847.3L448.7 849.3L448.9 851.3L449.0 853.3L449.1 855.3L449.2 857.3L449.3 859.3L449.4 861.3L449.6 863.3L449.7 865.3L449.8 867.3L450.0 869.3L450.1 871.3L450.2 873.3L450.4 875.3L450.5 877.3L450.7 879.3L450.8 881.3L451.0 883.3L451.1 885.3L451.3 887.3L451.4 889.2L451.6 891.2L451.7 893.2L451.9 895.2L452.1 897.2L452.2 899.2L452.3 901.2L452.5 903.2L452.6 905.2L452.7 907.2L452.9 909.2L453.0 911.2L453.1 913.2L453.2 915.2L453.3 917.2L453.4 919.2L453.6 921.2L453.7 923.2L453.8 925.2L453.9 927.2L454.0 929.2L454.1 931.2L454.2 933.2L454.4 935.2L454.5 937.2L454.6 939.2L454.8 941.2L454.9 943.2L455.1 945.2L455.2 947.2L455.4 949.2L455.6 951.2L455.8 953.1L456.0 955.1L456.2 957.1L456.5 959.1L456.7 961.1L457.0 963.1L457.4 965.0L457.7 967.0L458.0 969.0L458.4 970.9L458.8 972.9L459.1 974.9L459.5 976.9L459.8 978.8L460.1 980.8L460.5 982.8L460.8 984.8L461.1 986.7L461.5 988.7L461.8 990.7L462.1 992.7L462.5 994.6L462.9 996.6L463.2 998.6L463.6 1000.5L464.0 1002.5L464.4 1004.5L464.7 1006.4L465.1 1008.4L465.5 1010.4L466.0 1012.3L466.5 1014.3L467.0 1016.2L467.7 1018.1L468.4 1020.1L469.3 1021.9L470.3 1023.4L472.0 1024.9L473.7 1024.6L475.4 1023.4L477.0 1022.2L478.4 1020.8L479.8 1019.3L481.2 1017.8L482.6 1016.4L484.2 1015.1L485.7 1013.9L487.3 1012.6L488.9 1011.4L490.5 1010.2L492.1 1009.1L493.8 1007.9L495.5 1006.8L497.1 1005.7L498.9 1004.6L500.6 1003.6L502.3 1002.5L504.1 1001.5L505.9 1000.6L507.7 999.8L509.5 999.2L511.4 998.6L513.3 998.0L515.2 997.4L517.1 996.8L519.1 996.3L521.0 995.8L523.0 995.3L525.0 994.9L527.0 994.6L529.0 994.3L531.0 994.1L533.0 994.0L535.0 994.0L537.0 994.1L539.0 994.2L540.9 994.3L542.9 994.5L544.9 994.7L546.9 995.0L548.9 995.2L550.9 995.5L552.9 995.7L554.9 996.0L556.9 996.3L558.9 996.6L560.8 996.9L562.8 997.3L564.8 997.7L566.7 998.1L568.7 998.5L570.6 998.9L572.6 999.3L574.6 999.7L576.5 1000.1L578.5 1000.5L580.5 1000.9L582.4 1001.3L584.4 1001.7L586.4 1002.1L588.3 1002.5L590.3 1002.8L592.3 1003.2L594.2 1003.6L596.2 1003.9L598.2 1004.2L600.1 1004.5L602.1 1004.8L604.1 1005.1L606.1 1005.3L608.1 1005.6L610.1 1005.8L612.1 1006.0L614.0 1006.2L616.0 1006.4L618.0 1006.6L620.0 1006.8L622.0 1006.9L624.0 1007.1L626.0 1007.2L628.0 1007.3L630.0 1007.4L632.0 1007.5L634.0 1007.6L636.0 1007.7L638.0 1007.8L640.0 1007.9L642.0 1008.0L644.0 1008.1L646.0 1008.1L648.0 1008.2L650.0 1008.3L652.0 1008.3L654.0 1008.4L656.0 1008.4L658.0 1008.5L660.0 1008.5L662.0 1008.5L664.0 1008.6L666.0 1008.6L668.0 1008.6L670.0 1008.6L672.0 1008.7L674.0 1008.7L676.0 1008.7L678.0 1008.7L680.0 1008.8L682.0 1008.8L684.0 1008.8L686.0 1008.8L688.0 1008.8L690.0 1008.8L692.0 1008.9L694.0 1008.9L696.0 1008.9L698.0 1008.9L700.0 1008.9L702.0 1008.9L704.0 1008.9L706.0 1009.0L708.0 1009.0L710.0 1009.0L712.0 1009.0L714.0 1009.0L716.0 1009.0L718.0 1009.0L720.0 1009.1L722.0 1009.1L724.1 1009.1L726.1 1009.1L728.1 1009.1L730.1 1009.1L732.1 1009.1L734.1 1009.1L736.1 1009.2L738.1 1009.2L740.1 1009.2L742.1 1009.2L744.1 1009.2L746.1 1009.2L748.1 1009.2L750.1 1009.2L752.1 1009.2L754.1 1009.3L756.1 1009.3L758.1 1009.3L760.1 1009.3L762.1 1009.3L764.1 1009.3L766.1 1009.3L768.1 1009.3L770.1 1009.3L772.1 1009.4L774.1 1009.4L776.1 1009.4L778.1 1009.4L780.1 1009.4L782.1 1009.4L784.1 1009.4L786.1 1009.4L788.1 1009.4L790.1 1009.4L792.1 1009.5L794.1 1009.5L796.1 1009.5L798.1 1009.5L800.1 1009.5L802.1 1009.5L804.1 1009.5L806.1 1009.5L808.1 1009.5L810.1 1009.6L812.1 1009.6L814.1 1009.6L816.1 1009.7L818.1 1009.7L820.1 1009.8L822.1 1010.0L824.1 1010.1L826.1 1010.2L828.1 1010.4L830.1 1010.6L832.1 1010.7L834.1 1010.9L836.1 1011.1L838.1 1011.3L840.1 1011.5L842.0 1011.7L844.0 1011.9L846.0 1012.2L848.0 1012.4L850.0 1012.7L852.0 1013.0L854.0 1013.3L855.9 1013.6L857.9 1013.9L859.9 1014.2L861.9 1014.5L863.8 1014.9L865.8 1015.3L867.8 1015.7L869.8 1016.1L871.7 1016.5L873.7 1016.9L875.7 1017.4L877.6 1017.8L879.6 1018.3L881.5 1018.8L883.5 1019.3L885.4 1019.9L887.3 1020.4L889.2 1021.0L891.1 1021.6L892.9 1022.2L894.8 1022.8L896.6 1023.5L898.5 1024.3L900.3 1025.1L902.2 1025.9L904.0 1026.7L905.8 1027.6L907.6 1028.5L909.4 1029.5L911.2 1030.4L913.0 1031.4L914.7 1032.4L916.5 1033.4L918.2 1034.4L920.0 1035.4L921.7 1036.4L923.4 1037.4L925.1 1038.5L926.8 1039.5L928.5 1040.5L930.2 1041.6L931.8 1042.7L933.5 1043.8L935.2 1044.9L936.8 1046.1L938.5 1047.2L940.1 1048.4L941.7 1049.6L943.3 1050.8L944.9 1052.0L946.5 1053.3L948.1 1054.5L949.7 1055.7L951.3 1057.0L952.8 1058.3L954.4 1059.5L955.9 1060.8L957.4 1062.1L958.9 1063.4L960.4 1064.7L961.9 1066.0L963.4 1067.4L964.8 1068.7L966.3 1070.1L967.7 1071.5L969.1 1072.9L970.6 1074.3L972.0 1075.7L973.4 1077.2L974.8 1078.6L976.1 1080.1L977.5 1081.5L978.9 1083.0L980.3 1084.4L981.7 1085.9L983.1 1087.3L984.5 1088.8L985.9 1090.2L987.3 1091.7L988.7 1093.1L990.1 1094.5L991.5 1095.9L992.9 1097.3L994.4 1098.7L995.8 1100.2L997.2 1101.6L998.6 1103.0L1000.0 1104.5L1001.4 1105.9L1002.8 1107.3L1004.3 1108.7L1005.7 1110.1L1007.1 1111.5L1008.6 1112.9L1010.1 1114.2L1011.6 1115.5L1013.1 1116.8L1014.6 1118.1L1016.1 1119.4L1017.7 1120.6L1019.3 1121.9L1020.9 1123.2L1022.5 1124.4L1024.1 1125.7L1025.8 1126.9L1027.4 1128.1L1029.1 1129.2L1030.8 1130.2L1032.5 1131.2L1034.2 1132.1L1036.0 1133.0L1037.8 1133.7L1039.6 1134.5L1041.4 1135.3L1043.3 1136.1L1045.2 1136.9L1047.2 1137.6L1049.1 1138.3L1051.1 1139.0L1053.0 1139.5L1055.0 1139.9L1056.9 1140.3L1058.9 1140.5L1060.8 1140.6L1062.8 1140.6L1064.7 1140.5L1066.7 1140.3L1068.7 1140.0L1070.7 1139.7L1072.7 1139.4L1074.6 1138.9L1076.6 1138.5L1078.6 1138.0L1080.6 1137.5L1082.6 1137.0L1084.5 1136.4L1086.5 1135.9L1088.4 1135.3L1090.3 1134.8L1092.2 1134.2L1094.1 1133.7L1096.0 1133.1L1097.8 1132.4L1099.7 1131.7L1101.6 1131.0L1103.4 1130.2L1105.2 1129.4L1107.1 1128.5L1108.9 1127.7L1110.7 1126.8L1112.5 1125.9L1114.3 1124.9L1116.1 1124.0L1117.9 1123.1L1119.7 1122.1L1121.5 1121.1L1123.2 1120.2L1125.0 1119.2L1126.7 1118.3L1128.5 1117.3L1130.2 1116.3L1131.9 1115.3L1133.6 1114.3L1135.3 1113.2L1137.0 1112.1L1138.7 1111.0L1140.3 1109.9L1142.0 1108.8L1143.7 1107.7L1145.3 1106.6L1147.0 1105.4L1148.6 1104.3L1150.3 1103.2L1152.0 1102.1L1153.6 1101.0L1155.3 1099.9L1157.0 1098.8L1158.7 1097.7L1160.4 1096.6L1162.1 1095.6L1163.8 1094.5L1165.5 1093.4L1167.2 1092.3L1168.9 1091.3L1170.6 1090.2L1172.2 1089.1L1173.9 1088.1L1175.6 1087.0L1177.3 1085.9L1179.1 1084.9L1180.8 1083.9L1182.5 1082.8L1184.2 1081.8L1185.9 1080.8L1187.7 1079.8L1189.4 1078.9L1191.2 1077.9L1192.9 1077.0L1194.7 1076.0L1196.5 1075.1L1198.2 1074.2L1200.0 1073.3L1201.8 1072.4L1203.6 1071.5L1205.4 1070.6L1207.2 1069.8L1209.0 1068.9L1210.8 1068.1L1212.7 1067.2L1214.5 1066.4L1216.3 1065.5L1218.1 1064.7L1219.9 1063.9L1221.8 1063.0L1223.6 1062.2L1225.4 1061.4L1227.3 1060.6L1229.1 1059.8L1230.9 1059.0L1232.8 1058.2L1234.6 1057.4L1236.5 1056.6L1238.3 1055.9L1240.2 1055.2L1242.0 1054.4L1243.9 1053.7L1245.8 1053.0L1247.7 1052.3L1249.6 1051.6L1251.5 1050.9L1253.4 1050.2L1255.2 1049.5L1257.1 1048.8L1259.0 1048.1L1260.9 1047.4L1262.7 1046.6L1264.6 1045.9L1266.4 1045.1L1268.2 1044.3L1270.1 1043.5L1271.9 1042.7L1273.7 1041.9L1275.4 1041.0L1277.2 1040.1L1279.0 1039.2L1280.7 1038.2L1282.5 1037.3L1284.3 1036.3L1286.0 1035.3L1287.7 1034.3L1289.5 1033.2L1291.2 1032.2L1292.9 1031.1L1294.6 1030.0L1296.3 1028.9L1297.9 1027.8L1299.6 1026.7L1301.3 1025.6L1302.9 1024.5L1304.5 1023.3L1306.2 1022.2L1307.8 1021.0L1309.4 1019.8L1311.0 1018.6L1312.6 1017.4L1314.2 1016.2L1315.8 1015.0L1317.4 1013.7L1318.9 1012.5L1320.5 1011.2L1322.0 1009.9L1323.6 1008.6L1325.1 1007.3L1326.6 1005.9L1328.1 1004.6L1329.6 1003.2L1331.0 1001.9L1332.5 1000.5L1333.9 999.1L1335.3 997.7L1336.7 996.3L1338.1 994.9L1339.4 993.4L1340.7 991.9L1342.1 990.4L1343.4 988.9L1344.7 987.4L1345.9 985.8L1347.2 984.2L1348.5 982.7L1349.7 981.1L1350.9 979.5L1352.1 977.9L1353.3 976.3L1354.5 974.6L1355.7 973.0L1356.9 971.4L1358.0 969.8L1359.1 968.1L1360.2 966.5L1361.3 964.8L1362.4 963.1L1363.5 961.4L1364.5 959.7L1365.5 958.0L1366.6 956.3L1367.6 954.6L1368.6 952.8L1369.7 951.1L1370.7 949.4L1371.7 947.7L1372.8 946.0L1373.8 944.2L1374.9 942.5L1376.0 940.9L1377.1 939.2L1378.2 937.5L1379.3 935.9L1380.4 934.2L1381.5 932.6L1382.7 930.9L1383.8 929.3L1385.0 927.6L1386.1 926.0L1387.3 924.4L1388.5 922.7L1389.6 921.1L1390.8 919.5L1392.0 917.9L1393.1 916.2L1394.3 914.6L1395.5 913.0L1396.6 911.4L1397.8 909.7L1398.9 908.1L1400.1 906.5L1401.3 904.8L1402.4 903.2L1403.6 901.6L1404.8 899.9L1405.9 898.3L1407.1 896.7L1408.2 895.1L1409.4 893.4L1410.6 891.8L1411.7 890.2L1412.9 888.5L1414.1 886.9L1415.2 885.3L1416.4 883.7L1417.6 882.0L1418.7 880.4L1419.9 878.8L1421.1 877.2L1422.2 875.5L1423.4 873.9L1424.6 872.3L1425.8 870.7L1427.0 869.1L1428.2 867.5L1429.4 865.9L1430.6 864.2L1431.8 862.6L1432.9 861.0L1434.1 859.4L1435.2 857.7L1436.4 856.1L1437.5 854.4L1438.6 852.8L1439.7 851.1L1440.7 849.4L1441.8 847.7L1442.8 846.0L1443.8 844.3L1444.8 842.6L1445.9 840.9L1446.8 839.1L1447.8 837.4L1448.8 835.7L1449.8 833.9L1450.7 832.2L1451.7 830.4L1452.7 828.6L1453.6 826.9L1454.5 825.1L1455.5 823.3L1456.4 821.5L1457.3 819.8L1458.2 818.0L1459.1 816.2L1460.0 814.4L1460.9 812.6L1461.8 810.8L1462.7 809.0L1463.6 807.2L1464.5 805.4L1465.4 803.6L1466.3 801.8L1467.2 800.0L1468.1 798.2L1468.9 796.4L1469.8 794.6L1470.7 792.8L1471.6 791.0L1472.4 789.2L1473.3 787.4L1474.2 785.6L1475.1 783.8L1475.9 782.0L1476.8 780.2L1477.7 778.4L1478.5 776.6L1479.4 774.8L1480.3 773.0L1481.1 771.2L1482.0 769.4L1482.8 767.5L1483.7 765.7L1484.5 763.9L1485.4 762.1L1486.2 760.3L1487.0 758.5L1487.9 756.6L1488.7 754.8L1489.5 753.0L1490.3 751.2L1491.1 749.3L1492.0 747.5L1492.8 745.7L1493.6 743.8L1494.4 742.0L1495.2 740.2L1496.0 738.3L1496.8 736.5L1497.5 734.7L1498.3 732.8L1499.1 731.0L1499.9 729.1L1500.7 727.3L1501.4 725.5L1502.2 723.6L1503.0 721.8L1503.7 719.9L1504.5 718.1L1505.3 716.2L1506.0 714.4L1506.8 712.5L1507.5 710.6L1508.3 708.8L1509.0 706.9L1509.8 705.1L1510.5 703.2L1511.3 701.3L1512.0 699.5L1512.7 697.6L1513.4 695.8L1514.2 693.9L1514.9 692.0L1515.6 690.1L1516.3 688.3L1517.0 686.4L1517.7 684.5L1518.4 682.7L1519.1 680.8L1519.8 678.9L1520.5 677.0L1521.2 675.2L1521.9 673.3L1522.6 671.4L1523.3 669.5L1523.9 667.6L1524.6 665.8L1525.3 663.9L1525.9 662.0L1526.6 660.1L1527.3 658.2L1527.9 656.3L1528.6 654.4L1529.3 652.5L1529.9 650.6L1530.6 648.7L1531.2 646.9L1531.9 645.0L1532.5 643.1L1533.1 641.2L1533.8 639.3L1534.4 637.4L1535.0 635.5L1535.7 633.6L1536.3 631.7L1536.9 629.8L1537.5 627.9L1538.2 625.9L1538.8 624.0L1539.4 622.1L1540.0 620.2L1540.6 618.3L1541.2 616.4L1541.8 614.5L1542.4 612.6L1543.0 610.7L1543.6 608.8L1544.1 606.9L1544.7 604.9L1545.3 603.0L1545.9 601.1L1546.4 599.2L1547.0 597.3L1547.5 595.3L1548.1 593.4L1548.6 591.5L1549.1 589.6L1549.7 587.6L1550.2 585.7L1550.7 583.8L1551.3 581.8L1551.8 579.9L1552.3 578.0L1552.8 576.0L1553.3 574.1L1553.9 572.2L1554.4 570.2L1554.9 568.3L1555.4 566.4L1555.9 564.4L1556.5 562.5L1557.0 560.6L1557.5 558.6L1558.0 556.7L1558.6 554.8L1559.1 552.9L1559.7 550.9L1560.2 549.0L1560.8 547.1L1561.3 545.2L1561.9 543.3L1562.5 541.3L1563.1 539.4L1563.8 537.5L1564.4 535.6L1565.0 533.7L1565.6 531.8L1566.2 529.9L1566.8 528.0L1567.4 526.1L1568.0 524.1L1568.6 522.2L1569.1 520.3L1569.6 518.4L1570.1 516.4L1570.5 514.5L1570.9 512.6L1571.3 510.6L1571.7 508.6L1572.1 506.7L1572.5 504.7L1572.9 502.8L1573.3 500.8L1573.6 498.8L1574.0 496.9L1574.3 494.9L1574.7 492.9L1575.0 490.9L1575.3 489.0L1575.7 487.0L1576.0 485.0L1576.3 483.0L1576.6 481.0L1576.9 479.1L1577.2 477.1L1577.5 475.1L1577.8 473.1L1578.1 471.1L1578.5 469.2L1578.8 467.2L1579.1 465.2L1579.4 463.2L1579.7 461.2L1580.0 459.3L1580.3 457.3L1580.6 455.3L1580.9 453.3L1581.2 451.3L1581.5 449.4L1581.7 447.4L1582.0 445.4L1582.3 443.4L1582.6 441.4L1582.9 439.5L1583.1 437.5L1583.4 435.5L1583.7 433.5L1583.9 431.5L1584.2 429.5L1584.4 427.5L1584.7 425.6L1585.0 423.6L1585.2 421.6L1585.5 419.6L1585.8 417.6L1586.0 415.6L1586.3 413.7L1586.6 411.7L1586.8 409.7L1587.1 407.7L1587.4 405.7L1587.6 403.7L1587.9 401.8L1588.2 399.8L1588.5 397.8L1588.8 395.8L1589.1 393.8L1589.4 391.9L1589.7 389.9L1590.0 387.9L1590.3 385.9L1590.6 384.0L1590.9 382.0L1591.2 380.0L1591.6 378.0L1591.9 376.1L1592.2 374.1L1592.6 372.1L1592.9 370.2L1593.3 368.2L1593.7 366.2L1594.0 364.2L1594.4 362.3L1594.8 360.3L1595.1 358.3L1595.5 356.4L1595.9 354.4L1596.3 352.5L1596.7 350.5L1597.1 348.5L1597.5 346.6L1597.9 344.6L1598.3 342.6L1598.7 340.7L1599.1 338.7L1599.5 336.8L1600.0 334.8L1600.4 332.8L1600.8 330.9L1601.2 328.9L1601.7 327.0L1602.1 325.0L1602.5 323.1L1603.0 321.1L1603.4 319.2L1603.8 317.2L1604.3 315.3L1604.7 313.3L1605.2 311.4L1605.6 309.4L1606.1 307.5L1606.5 305.5L1607.0 303.6L1607.5 301.6L1608.0 299.7L1608.4 297.7L1608.9 295.8L1609.4 293.8L1609.9 291.9L1610.4 290.0L1610.9 288.0L1611.4 286.1L1611.9 284.2L1612.5 282.2L1613.0 280.3L1613.5 278.4L1614.1 276.5L1614.6 274.5L1615.2 272.6L1615.7 270.7L1616.3 268.7L1616.8 266.8L1617.4 264.9L1617.9 262.9L1618.5 261.0L1619.1 259.0L1619.6 257.1L1620.2 255.1L1620.9 253.2L1621.5 251.3L1622.1 249.4L1622.8 247.5L1623.5 245.7L1624.2 243.8L1625.0 242.0L1625.8 240.2L1626.6 238.5L1627.5 236.7L1628.4 234.8L1629.4 232.9L1630.5 231.1L1631.7 229.4L1632.9 227.7L1634.1 226.3L1635.5 225.0L1637.0 223.9L1638.6 222.8L1640.5 221.8L1642.4 220.9L1644.4 220.3L1646.3 220.0L1648.3 220.1L1650.3 220.4L1652.3 220.8L1654.3 221.3L1656.1 221.9L1657.9 222.8L1659.7 224.0L1661.2 225.3L1662.5 226.7L1663.7 228.3L1664.7 230.1L1665.5 232.0L1666.1 233.8L1666.6 235.8L1667.1 237.8L1667.4 239.8L1667.7 241.7L1667.9 243.7L1668.1 245.7L1668.3 247.7L1668.4 249.7L1668.6 251.7L1668.7 253.7L1668.8 255.7L1668.9 257.7L1669.0 259.7L1669.1 261.7L1669.1 263.7L1669.2 265.7L1669.3 267.7L1669.4 269.7L1669.4 271.7L1669.5 273.7L1669.5 275.7L1669.6 277.7L1669.6 279.7L1669.7 281.7L1669.7 283.7L1669.8 285.7L1669.8 287.7L1669.9 289.7L1669.9 291.7L1669.9 293.7L1670.0 295.7L1670.0 297.7L1670.0 299.7L1670.1 301.7L1670.1 303.7L1670.1 305.7L1670.2 307.7L1670.2 309.7L1670.2 311.7L1670.2 313.7L1670.3 315.7L1670.3 317.7L1670.3 319.7L1670.3 321.7L1670.4 323.7L1670.4 325.7L1670.4 327.7L1670.4 329.7L1670.4 331.7L1670.5 333.7L1670.5 335.7L1670.5 337.7L1670.5 339.7L1670.5 341.7L1670.6 343.7L1670.6 345.7L1670.6 347.7L1670.6 349.7L1670.6 351.7L1670.7 353.7L1670.7 355.7L1670.7 357.7L1670.7 359.7L1670.7 361.7L1670.7 363.7L1670.8 365.7L1670.8 367.8L1670.8 369.8L1670.8 371.8L1670.8 373.8L1670.8 375.8L1670.9 377.8L1670.9 379.8L1670.9 381.8L1670.9 383.8L1670.9 385.8L1671.0 387.8L1671.0 389.8L1671.0 391.8L1671.0 393.8L1671.0 395.8L1671.1 397.8L1671.1 399.8L1671.1 401.8L1671.1 403.8L1671.2 405.8L1671.2 407.8L1671.2 409.8L1671.2 411.8L1671.2 413.8L1671.3 415.8L1671.3 417.8L1671.3 419.8L1671.3 421.8L1671.4 423.8L1671.4 425.8L1671.4 427.8L1671.4 429.8L1671.4 431.8L1671.5 433.8L1671.5 435.8L1671.5 437.8L1671.5 439.8L1671.6 441.8L1671.6 443.8L1671.6 445.8L1671.6 447.8L1671.6 449.8L1671.7 451.8L1671.7 453.8L1671.7 455.8L1671.7 457.8L1671.8 459.8L1671.8 461.8L1671.8 463.8L1671.8 465.8L1671.8 467.8L1671.9 469.8L1671.9 471.8L1671.9 473.8L1671.9 475.8L1671.9 477.8L1672.0 479.8L1672.0 481.8L1672.0 483.8L1672.0 485.8L1672.0 487.8L1672.1 489.8L1672.1 491.8L1672.1 493.8L1672.1 495.8L1672.1 497.8L1672.2 499.8L1672.2 501.8L1672.2 503.8L1672.2 505.8L1672.2 507.8L1672.2 509.8L1672.3 511.8L1672.3 513.8L1672.3 515.8L1672.3 517.8L1672.3 519.8L1672.3 521.8L1672.4 523.8L1672.4 525.8L1672.4 527.8L1672.4 529.8L1672.4 531.8L1672.4 533.8L1672.5 535.8L1672.5 537.9L1672.5 539.9L1672.5 541.9L1672.5 543.9L1672.5 545.9L1672.5 547.9L1672.6 549.9L1672.6 551.9L1672.6 553.9L1672.6 555.9L1672.6 557.9L1672.6 559.9L1672.6 561.9L1672.6 563.9L1672.7 565.9L1672.7 567.9L1672.7 569.9L1672.7 571.9L1672.7 573.9L1672.7 575.9L1672.7 577.9L1672.7 579.9L1672.8 581.9L1672.8 583.9L1672.8 585.9L1672.8 587.9L1672.8 589.9L1672.8 591.9L1672.8 593.9L1672.8 595.9L1672.9 597.9L1672.9 599.9L1672.9 601.9L1672.9 603.9L1672.9 605.9L1672.9 607.9L1672.9 609.9L1672.9 611.9L1672.9 613.9L1673.0 615.9L1673.0 617.9L1673.0 619.9L1673.0 621.9L1673.0 623.9L1673.0 625.9L1673.0 627.9L1673.0 629.9L1673.1 631.9L1673.1 633.9L1673.1 635.9L1673.1 637.9L1673.1 639.9L1673.1 641.9L1673.1 643.9L1673.2 645.9L1673.2 647.9L1673.2 649.9L1673.2 651.9L1673.2 653.9L1673.2 655.9L1673.2 657.9L1673.3 659.9L1673.3 661.9L1673.3 663.9L1673.3 665.9L1673.3 667.9L1673.3 669.9L1673.4 671.9L1673.4 673.9L1673.4 675.9L1673.4 677.9L1673.4 679.9L1673.4 681.9L1673.5 683.9L1673.5 685.9L1673.5 687.9L1673.5 689.9L1673.5 691.9L1673.6 693.9L1673.6 695.9L1673.6 697.9L1673.6 699.9L1673.7 701.9L1673.7 704.0L1673.7 706.0L1673.7 708.0L1673.8 710.0L1673.8 712.0L1673.8 714.0L1673.8 716.0L1673.9 718.0L1673.9 720.0L1673.9 722.0L1673.9 724.0L1674.0 726.0L1674.0 728.0L1674.0 730.0L1674.1 732.0L1674.1 734.0L1674.1 736.0L1674.2 738.0L1674.2 740.0L1674.2 742.0L1674.2 744.0L1674.3 746.0L1674.3 748.0L1674.3 750.0L1674.4 752.0L1674.4 754.0L1674.4 756.0L1674.5 758.0L1674.5 760.0L1674.5 762.0L1674.6 764.0L1674.6 766.0L1674.6 768.0L1674.7 770.0L1674.7 772.0L1674.7 774.0L1674.8 776.0L1674.8 778.0L1674.9 780.0L1674.9 782.0L1674.9 784.0L1675.0 786.0L1675.0 788.0L1675.0 790.0L1675.1 792.0L1675.1 794.0L1675.1 796.0L1675.2 798.0L1675.2 800.0L1675.2 802.0L1675.3 804.0L1675.3 806.0L1675.3 808.0L1675.4 810.0L1675.4 812.0L1675.4 814.0L1675.5 816.0L1675.5 818.0L1675.5 820.0L1675.6 822.0L1675.6 824.0L1675.6 826.0L1675.6 828.0L1675.7 830.0L1675.7 832.0L1675.7 834.0L1675.8 836.0L1675.8 838.0L1675.8 840.0L1675.9 842.0L1675.9 844.0L1675.9 846.0L1675.9 848.0L1676.0 850.0L1676.0 852.0L1676.0 854.0L1676.0 856.0L1676.0 858.0L1676.1 860.0L1676.1 862.0L1676.1 864.0L1676.1 866.0L1676.1 868.0L1676.2 870.0L1676.2 872.0L1676.2 874.0L1676.2 876.0L1676.2 878.1L1676.3 880.1L1676.3 882.1L1676.3 884.1L1676.4 886.1L1676.4 888.1L1676.4 890.1L1676.5 892.1L1676.5 894.1L1676.6 896.1L1676.6 898.1L1676.6 900.1L1676.7 902.1L1676.8 904.1L1676.8 906.1L1676.9 908.1L1677.1 910.1L1677.2 912.1L1677.4 914.1L1677.6 916.0L1678.1 917.9L1678.7 919.9L1679.3 921.8L1680.1 923.7L1680.8 925.5L1681.5 927.4L1682.3 929.2L1683.1 931.1L1683.9 932.9L1684.8 934.7L1685.6 936.5L1686.6 938.3L1687.5 940.1L1688.4 941.9L1689.3 943.6L1690.3 945.4L1691.2 947.2L1692.2 949.0L1693.2 950.8L1694.2 952.6L1695.2 954.4L1696.3 956.1L1697.4 957.7L1698.6 959.2L1699.8 960.7L1701.3 961.9L1702.8 963.1L1704.5 964.2L1706.3 965.3L1708.0 966.3L1709.8 967.4L1711.4 968.6L1713.0 969.8L1714.5 971.1L1716.0 972.4L1717.5 973.7L1719.0 975.1L1720.5 976.5L1722.2 978.3L1723.7 979.9L1724.6 980.4L1725.1 979.7L1725.5 978.3L1725.8 976.3L1726.1 973.9L1726.4 971.3L1726.6 968.7L1726.8 966.3L1727.1 964.2L1727.4 962.2L1727.6 960.3L1727.9 958.3L1728.1 956.3L1728.4 954.3L1728.6 952.3L1728.8 950.3L1729.1 948.3L1729.3 946.3L1729.5 944.4L1729.7 942.4L1729.9 940.4L1730.1 938.4L1730.3 936.4L1730.5 934.4L1730.7 932.4L1730.9 930.4L1731.1 928.4L1731.3 926.4L1731.5 924.4L1731.7 922.4L1731.8 920.5L1732.0 918.5L1732.2 916.5L1732.3 914.5L1732.5 912.5L1732.7 910.5L1732.8 908.5L1732.9 906.5L1733.1 904.5L1733.2 902.5L1733.3 900.5L1733.5 898.5L1733.6 896.5L1733.7 894.5L1733.8 892.5L1733.9 890.5L1734.0 888.5L1734.1 886.5L1734.2 884.5L1734.3 882.5L1734.4 880.5L1734.5 878.5L1734.5 876.5L1734.6 874.5L1734.7 872.5L1734.8 870.5L1734.9 868.5L1735.0 866.5L1735.0 864.5L1735.1 862.5L1735.2 860.5L1735.3 858.5L1735.3 856.5L1735.4 854.5L1735.5 852.5L1735.6 850.5L1735.7 848.5L1735.7 846.5L1735.8 844.5L1735.9 842.5L1736.0 840.5L1736.1 838.5L1736.2 836.5L1736.3 834.5L1736.3 832.5L1736.4 830.5L1736.5 828.5L1736.6 826.5L1736.7 824.5L1736.9 822.5L1737.0 820.5L1737.1 818.5L1737.2 816.5L1737.3 814.5L1737.4 812.5L1737.6 810.5L1737.7 808.5L1737.8 806.5L1737.9 804.5L1738.1 802.5L1738.2 800.5L1738.3 798.6L1738.5 796.6L1738.6 794.6L1738.7 792.6L1738.9 790.6L1739.0 788.6L1739.2 786.6L1739.3 784.6L1739.5 782.6L1739.6 780.6L1739.8 778.6L1739.9 776.6L1740.1 774.6L1740.3 772.6L1740.4 770.6L1740.6 768.6L1740.8 766.6L1741.0 764.6L1741.2 762.6L1741.4 760.7L1741.6 758.7L1741.8 756.7L1742.0 754.7L1742.2 752.7L1742.4 750.7L1742.7 748.7L1742.9 746.7L1743.2 744.8L1743.5 742.8L1743.8 740.8L1744.0 738.8L1744.3 736.8L1744.6 734.8L1744.9 732.9L1745.2 730.9L1745.6 728.9L1745.9 726.9L1746.2 725.0L1746.5 723.0L1746.8 721.0L1747.2 719.0L1747.5 717.1L1747.8 715.1L1748.2 713.1L1748.5 711.1L1748.9 709.2L1749.3 707.2L1749.7 705.2L1750.0 703.3L1750.4 701.3L1750.8 699.4L1751.2 697.4L1751.7 695.4L1752.1 693.5L1752.5 691.5L1752.9 689.6L1753.3 687.6L1753.8 685.7L1754.2 683.7L1754.6 681.7L1755.1 679.8L1755.5 677.8L1756.0 675.9L1756.5 673.9L1757.0 672.0L1757.5 670.1L1758.1 668.1L1758.6 666.2L1759.2 664.3L1759.9 662.4L1760.5 660.6L1761.3 658.7L1762.0 656.8L1762.8 655.0L1763.6 653.2L1764.4 651.3L1765.2 649.5L1766.0 647.7L1766.9 645.8L1767.7 644.0L1768.6 642.2L1769.4 640.4L1770.3 638.6L1771.2 636.8L1772.1 635.0L1773.1 633.3L1774.0 631.5" stroke="#000000" stroke-dasharray="28.4 6.9 14.8 6.9" stroke-dashoffset="2.4"/>
</g>
<circle cx="1209.7" cy="902.7" r="18.5" fill="none" stroke="#ae1428" stroke-width="7"/>
<circle cx="1407.6" cy="902.7" r="18.5" fill="none" stroke="#ae1428" stroke-width="7"/>
<circle cx="1679.8" cy="902.7" r="18.5" fill="none" stroke="#ae1428" stroke-width="7"/>
<circle cx="1740.1" cy="902.7" r="18.5" fill="none" stroke="#ae1428" stroke-width="7"/>
<path d="M292.1 117.0H434.2" stroke="#1a5ca8" stroke-width="7" stroke-dasharray="28.3 6.7 15 6.7" fill="none"/>
<text x="445.2" y="138.6" font-size="60.3">h80</text>
<path d="M292.1 186.6H434.2" stroke="#e60f32" stroke-width="7" stroke-dasharray="28.3 28.4" fill="none"/>
<text x="445.2" y="208.2" font-size="60.3">h70</text>
<path d="M292.1 256.0H434.2" stroke="#808080" stroke-width="7" stroke-dasharray="28.3 28.4" fill="none"/>
<text x="445.2" y="277.6" font-size="60.3">h60</text>
<path d="M292.1 325.6H434.2" stroke="#000000" stroke-width="7" stroke-dasharray="28.3 6.7 15 6.7" fill="none"/>
<text x="445.2" y="347.2" font-size="60.3">h40</text>
</g>
<g clip-path="url(#ins)" fill="none">
<path d="M558.7 373H1467.2" stroke="#1a1a1a" stroke-width="3.5" stroke-dasharray="14.2 14.3"/>
<path d="M558.7 189.1L572.7 200.5M576.2 203.4L582.8 208.7M586.7 211.8L601.1 223.4M604.7 226.2L611.0 231.2M615.3 234.6L629.5 245.7M633.0 248.5L639.4 253.4M643.8 256.7L657.7 267.3M661.7 270.4L668.1 275.2M672.1 278.2L686.1 288.7M690.2 291.6L696.2 296.0M700.7 299.3L714.9 309.5M718.6 312.1L724.8 316.3M729.0 319.2L743.1 328.6M746.9 331.0L753.2 335.1M757.5 337.8L771.5 346.4M775.4 348.7L781.9 352.5M785.8 354.7L799.9 362.4M803.9 364.6L810.0 367.9M814.5 370.2L828.7 377.7M832.2 379.5L838.4 382.7M842.9 385.0L857.2 392.3M860.8 394.0L867.1 397.1M871.6 399.3L885.2 405.5M889.4 407.3L895.3 410.0M899.9 412.0L913.7 418.0M917.8 419.8L923.7 422.5M928.3 424.5L942.5 430.7M946.2 432.4L952.6 435.2M956.7 437.0L970.9 443.4M974.5 445.0L980.9 447.9M985.0 449.7L999.2 456.2M1002.8 457.9L1009.2 460.8M1013.7 463.0L1020.0 466.0" stroke="#1f62ad" stroke-width="2.7" fill="none"/>
<path d="M730.2 138.4L744.4 150.9M758.8 163.4L772.8 175.5M787.0 187.5L801.2 199.3M815.5 211.1L829.9 222.7M844.0 233.9L858.3 244.9M872.6 255.8L886.7 266.2M900.9 276.5L915.1 286.7M929.3 297.0L943.6 307.2M957.7 316.8L972.1 325.7M986.1 333.5L1000.6 341.4M1014.5 349.3L1028.8 357.7M1043.1 365.9L1057.5 374.0M1071.6 381.5L1085.8 388.9M1100.2 396.0L1114.2 402.7M1128.7 409.4L1142.8 416.0M1156.8 422.6L1171.3 429.5M1185.4 435.9L1199.6 442.2M1213.9 448.2L1228.2 454.2M1242.5 460.1L1256.0 465.5" stroke="#e60f32" stroke-width="3.0" fill="none"/>
<path d="M968.9 134.6L982.5 147.2M997.2 161.6L1011.0 173.9M1025.5 186.1L1039.5 197.5M1053.9 209.2L1067.5 220.2M1082.4 232.1L1096.2 242.9M1110.4 253.8L1124.5 264.3M1139.0 275.0L1152.8 284.9M1167.1 295.0L1181.2 304.6M1195.7 314.4L1209.2 323.0M1224.2 332.1L1237.6 339.8M1252.6 348.0L1266.3 355.2M1280.7 362.2L1294.3 368.7M1309.0 376.1L1322.7 383.4M1337.3 391.2L1351.0 398.5M1365.9 406.6L1379.6 414.0M1394.2 421.6L1407.8 428.1M1422.4 434.5L1436.3 440.3M1450.6 446.2L1464.4 452.1M1479.1 458.6L1480.0 459.0" stroke="#808080" stroke-width="2.8" fill="none"/>
<path d="M970.5 125.0L970.6 126.0L970.6 127.0L970.7 128.0L970.8 129.0L970.9 130.0L970.9 131.0L971.0 132.0L971.1 133.0L971.2 134.0L971.2 135.0L971.3 136.0L971.4 137.0L971.5 138.0L971.6 139.0L971.6 140.0L971.7 141.0L971.8 142.0L971.9 143.0L972.0 144.0L972.1 145.0L972.1 146.0L972.2 147.0L972.3 148.0L972.4 149.0L972.5 150.0L972.6 151.0L972.6 152.0L972.7 153.0L972.8 154.0L972.9 155.0L973.0 156.0L973.1 157.0L973.2 158.0L973.3 159.0L973.3 160.0L973.4 161.0L973.5 162.0L973.6 163.0L973.7 164.0L973.8 165.0L973.9 166.0L974.0 167.0L974.0 168.0L974.1 169.0L974.2 170.0L974.3 171.0L974.4 172.0L974.5 173.0L974.6 174.0L974.7 175.0L974.8 176.0L974.9 177.0L975.0 178.0L975.0 179.0L975.1 180.0L975.2 181.0L975.3 182.0L975.4 183.0L975.5 184.0L975.6 185.0L975.7 186.0L975.8 187.0L975.9 188.0L976.0 189.0L976.1 190.0L976.2 191.0L976.3 192.0L976.3 193.0L976.4 194.0L976.5 195.0L976.6 196.0L976.7 197.0L976.8 198.0L976.9 199.0L977.0 200.0L977.1 201.0L977.2 202.0L977.3 203.0L977.4 204.0L977.5 205.0L977.6 206.0L977.7 207.0L977.8 208.0L977.9 209.0L978.0 210.0L978.0 211.0L978.1 212.0L978.2 213.0L978.3 214.0L978.4 215.0L978.5 216.0L978.6 217.0L978.7 218.0L978.8 219.0L978.9 220.0L979.0 221.0L979.1 222.0L979.2 223.0L979.3 224.0L979.4 225.0L979.5 226.0L979.6 227.0L979.7 228.0L979.8 229.0L979.9 230.0L980.0 231.0L980.1 232.0L980.2 233.0L980.3 234.0L980.4 235.0L980.5 236.0L980.6 237.0L980.7 238.0L980.8 239.0L980.9 240.0L981.0 241.0L981.1 242.0L981.2 243.0L981.3 244.0L981.4 245.0L981.5 246.0L981.6 247.0L981.7 248.0L981.8 249.0L981.9 250.0L982.0 251.0L982.1 252.0L982.2 253.0L982.3 254.0L982.4 255.0L982.5 256.0L982.6 257.0L982.7 258.0L982.9 259.0L983.0 260.0L983.1 261.0L983.2 262.0L983.3 263.0L983.4 264.0L983.5 265.0L983.6 266.0L983.7 266.9L983.8 267.9L983.9 268.9L984.0 269.9L984.1 270.9L984.2 271.9L984.3 272.9L984.4 273.9L984.5 274.9L984.6 275.9L984.7 276.9L984.8 277.9L984.9 278.9L985.0 279.9L985.1 280.9L985.2 281.9L985.3 282.9L985.5 283.9L985.6 284.9L985.7 285.9L985.8 286.9L985.9 287.9L986.0 288.9L986.1 289.9L986.2 290.9L986.3 291.9L986.4 292.9L986.5 293.9L986.6 294.9L986.7 295.9L986.8 296.9L986.9 297.9L987.0 298.9L987.2 299.9L987.3 300.9L987.4 301.9L987.5 302.9L987.6 303.9L987.7 304.9L987.8 305.9L987.9 306.9L988.0 307.9L988.1 308.9L988.2 309.9L988.4 310.9L988.5 311.9L988.6 312.9L988.7 313.9L988.8 314.9L988.9 315.9L989.0 316.9L989.2 317.9L989.3 318.9L989.4 319.9L989.5 320.9L989.6 321.8L989.7 322.8L989.9 323.8L990.0 324.8L990.1 325.8L990.2 326.8L990.3 327.8L990.5 328.8L990.6 329.8L990.7 330.8L990.8 331.8L991.0 332.8L991.1 333.8L991.2 334.8L991.3 335.8L991.4 336.8L991.6 337.8L991.7 338.8L991.8 339.8L992.0 340.8L992.1 341.8L992.2 342.8L992.3 343.8L992.5 344.8L992.6 345.8L992.7 346.8L992.9 347.8L993.0 348.7L993.1 349.7L993.3 350.7L993.4 351.7L993.5 352.7L993.7 353.7L993.8 354.7L993.9 355.7L994.1 356.7L994.2 357.7L994.3 358.7L994.5 359.7L994.6 360.7L994.8 361.7L994.9 362.7L995.0 363.7L995.2 364.7L995.3 365.7L995.5 366.7L995.6 367.6L995.8 368.6L995.9 369.6L996.0 370.6L996.2 371.6L996.3 372.6L996.5 373.6L996.6 374.6L996.8 375.6L996.9 376.6L997.1 377.6L997.3 378.6L997.4 379.6L997.6 380.5L997.7 381.5L997.9 382.5L998.0 383.5L998.2 384.5L998.4 385.5L998.5 386.5L998.7 387.5L998.9 388.5L999.0 389.5L999.2 390.5L999.4 391.4L999.5 392.4L999.7 393.4L999.9 394.4L1000.0 395.4L1000.2 396.4L1000.4 397.4L1000.6 398.4L1000.7 399.4L1000.9 400.3L1001.1 401.3L1001.3 402.3L1001.4 403.3L1001.6 404.3L1001.8 405.3L1002.0 406.3L1002.1 407.3L1002.3 408.3L1002.5 409.2L1002.7 410.2L1002.9 411.2L1003.0 412.2L1003.2 413.2L1003.4 414.2L1003.6 415.2L1003.7 416.2L1003.9 417.1L1004.1 418.1L1004.3 419.1L1004.5 420.1L1004.6 421.1L1004.8 422.1L1005.0 423.1L1005.2 424.1L1005.4 425.1L1005.6 426.0L1005.8 427.0L1005.9 428.0L1006.1 429.0L1006.3 430.0L1006.5 431.0L1006.7 432.0L1006.9 432.9L1007.1 433.9L1007.3 434.9L1007.5 435.9L1007.8 436.9L1008.0 437.8L1008.2 438.8L1008.4 439.8L1008.6 440.8L1008.9 441.7L1009.1 442.7L1009.3 443.7L1009.6 444.7L1009.8 445.6L1010.1 446.6L1010.3 447.6L1010.6 448.6L1010.9 449.5L1011.1 450.5L1011.4 451.5L1011.6 452.4L1011.9 453.4L1012.2 454.4L1012.4 455.3L1012.7 456.3L1013.0 457.3L1013.2 458.3L1013.5 459.2L1013.7 460.2L1014.0 461.2L1014.2 462.1L1014.5 463.1L1014.7 464.1L1015.0 465.1L1015.2 466.0L1015.5 467.0" stroke="#111" stroke-width="3" stroke-dasharray="11 2.5 4 2.5"/>
</g>
<rect x="558.7" y="138.2" width="908.5" height="322.3" fill="none" stroke="#9a9a9a" stroke-width="2.2"/>
<circle cx="819.8" cy="373" r="9.2" fill="none" stroke="#1f62ad" stroke-width="3"/>
<circle cx="997.0" cy="373" r="9.2" fill="none" stroke="#111" stroke-width="3"/>
<circle cx="1055.9" cy="373" r="9.2" fill="none" stroke="#e60f32" stroke-width="3"/>
<circle cx="1303.0" cy="373" r="9.2" fill="none" stroke="#808080" stroke-width="3"/>
<path d="M1664 889L1322 502.7" stroke="#000" stroke-width="5.9" fill="none"/>
<path d="M1299.1 476.8L1335.9 497.4L1315.8 514.7Z" fill="#000"/>
<text x="661.4" y="354.9" font-size="43.5">590.3</text>
<text x="846.2" y="354.9" font-size="43.5">591.8</text>
<text x="1059.3" y="354.9" font-size="43.5">592.3</text>
<text x="1308.8" y="354.9" font-size="43.5">594.4</text>
<text transform="translate(155.1 61.0) scale(0.945 1)" font-size="76.0" text-anchor="middle">100</text>
<text transform="translate(155.4 229.2) scale(0.945 1)" font-size="76.0" text-anchor="middle">80</text>
<text transform="translate(155.4 403.6) scale(0.945 1)" font-size="76.0" text-anchor="middle">60</text>
<text transform="translate(155.4 582.6) scale(0.945 1)" font-size="76.0" text-anchor="middle">40</text>
<text transform="translate(154.9 750.9) scale(0.945 1)" font-size="76.0" text-anchor="middle">20</text>
<text transform="translate(155.6 925.0) scale(0.945 1)" font-size="76.0" text-anchor="middle">0</text>
<text transform="translate(209.2 1105.3) scale(0.945 1)" font-size="76.0" text-anchor="end"><tspan dy="-5">–</tspan><tspan dy="5" dx="3.5"> 20</tspan></text>
<text transform="translate(209.2 1274.3) scale(0.945 1)" font-size="76.0" text-anchor="end"><tspan dy="-5">–</tspan><tspan dy="5" dx="3.5"> 40</tspan></text>
<text transform="translate(210.8 1341.0) scale(0.945 1)" font-size="76.0" text-anchor="middle">320</text>
<text transform="translate(435.6 1341.0) scale(0.945 1)" font-size="76.0" text-anchor="middle">360</text>
<text transform="translate(648.5 1341.0) scale(0.945 1)" font-size="76.0" text-anchor="middle">400</text>
<text transform="translate(862.1 1341.0) scale(0.945 1)" font-size="76.0" text-anchor="middle">440</text>
<text transform="translate(1076.6 1341.0) scale(0.945 1)" font-size="76.0" text-anchor="middle">480</text>
<text transform="translate(1289.7 1341.0) scale(0.945 1)" font-size="76.0" text-anchor="middle">520</text>
<text transform="translate(1503.1 1341.0) scale(0.945 1)" font-size="76.0" text-anchor="middle">560</text>
<text transform="translate(1717.0 1341.0) scale(0.945 1)" font-size="76.0" text-anchor="middle">600</text>
<text transform="translate(858.7 1424.6) scale(0.974 1)" font-size="73.0" text-anchor="start">X /mm</text>
<text transform="translate(64.1 1061.5) rotate(-90) scale(0.991 1)" font-size="73.0" text-anchor="start">X Component Wall Shear</text>
</svg></body></html>
